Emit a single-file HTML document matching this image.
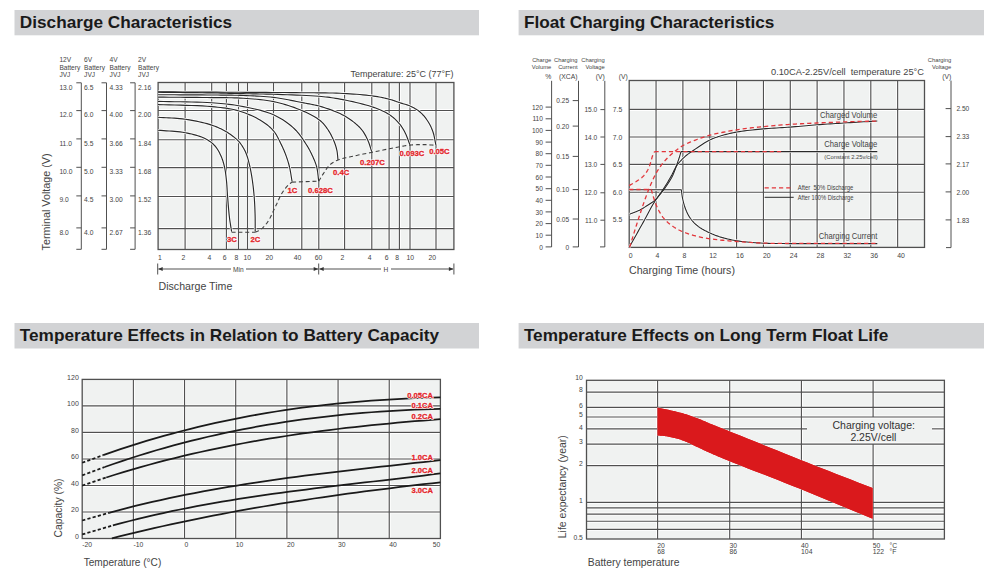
<!DOCTYPE html>
<html><head><meta charset="utf-8"><style>
html,body{margin:0;padding:0;background:#fff;width:1000px;height:577px;overflow:hidden}
svg{display:block;font-family:"Liberation Sans",sans-serif}
</style></head><body>
<svg width="1000" height="577" viewBox="0 0 1000 577">
<rect x="14.5" y="10" width="464.5" height="25.3" fill="#d2d3d5"/>
<text x="19.8" y="28.4" font-size="17.22" font-weight="bold" fill="#1a1a1a">Discharge Characteristics</text>
<rect x="518.6" y="10" width="465.4" height="25.3" fill="#d2d3d5"/>
<text x="523.9" y="28.4" font-size="17.22" font-weight="bold" fill="#1a1a1a">Float Charging Characteristics</text>
<rect x="14.5" y="323" width="464.5" height="25.5" fill="#d2d3d5"/>
<text x="19.8" y="341.4" font-size="17.22" font-weight="bold" fill="#1a1a1a">Temperature Effects in Relation to Battery Capacity</text>
<rect x="518.6" y="323" width="465.4" height="25.5" fill="#d2d3d5"/>
<text x="523.9" y="341.4" font-size="17.22" font-weight="bold" fill="#1a1a1a">Temperature Effects on Long Term Float Life</text>
<rect x="158.1" y="82.5" width="295.8" height="167.0" fill="#f0f2f1"/>
<g stroke="#ffffff" stroke-width="3.0"><line x1="158.1" y1="110.50" x2="453.9" y2="110.50"/><line x1="158.1" y1="139.70" x2="453.9" y2="139.70"/><line x1="158.1" y1="167.60" x2="453.9" y2="167.60"/><line x1="158.1" y1="196.50" x2="453.9" y2="196.50"/><line x1="158.1" y1="228.60" x2="453.9" y2="228.60"/><line x1="185.10" y1="82.5" x2="185.10" y2="249.5"/><line x1="211.70" y1="82.5" x2="211.70" y2="249.5"/><line x1="226.40" y1="82.5" x2="226.40" y2="249.5"/><line x1="238.50" y1="82.5" x2="238.50" y2="249.5"/><line x1="247.50" y1="82.5" x2="247.50" y2="249.5"/><line x1="273.50" y1="82.5" x2="273.50" y2="249.5"/><line x1="301.80" y1="82.5" x2="301.80" y2="249.5"/><line x1="318.80" y1="82.5" x2="318.80" y2="249.5"/><line x1="344.60" y1="82.5" x2="344.60" y2="249.5"/><line x1="371.80" y1="82.5" x2="371.80" y2="249.5"/><line x1="389.10" y1="82.5" x2="389.10" y2="249.5"/><line x1="399.40" y1="82.5" x2="399.40" y2="249.5"/><line x1="410.00" y1="82.5" x2="410.00" y2="249.5"/><line x1="436.00" y1="82.5" x2="436.00" y2="249.5"/></g>
<g stroke="#505050" stroke-width="1.15"><line x1="158.1" y1="110.50" x2="453.9" y2="110.50"/><line x1="158.1" y1="139.70" x2="453.9" y2="139.70"/><line x1="158.1" y1="167.60" x2="453.9" y2="167.60"/><line x1="158.1" y1="196.50" x2="453.9" y2="196.50"/><line x1="158.1" y1="228.60" x2="453.9" y2="228.60"/><line x1="185.10" y1="82.5" x2="185.10" y2="249.5"/><line x1="211.70" y1="82.5" x2="211.70" y2="249.5"/><line x1="226.40" y1="82.5" x2="226.40" y2="249.5"/><line x1="238.50" y1="82.5" x2="238.50" y2="249.5"/><line x1="247.50" y1="82.5" x2="247.50" y2="249.5"/><line x1="273.50" y1="82.5" x2="273.50" y2="249.5"/><line x1="301.80" y1="82.5" x2="301.80" y2="249.5"/><line x1="318.80" y1="82.5" x2="318.80" y2="249.5"/><line x1="344.60" y1="82.5" x2="344.60" y2="249.5"/><line x1="371.80" y1="82.5" x2="371.80" y2="249.5"/><line x1="389.10" y1="82.5" x2="389.10" y2="249.5"/><line x1="399.40" y1="82.5" x2="399.40" y2="249.5"/><line x1="410.00" y1="82.5" x2="410.00" y2="249.5"/><line x1="436.00" y1="82.5" x2="436.00" y2="249.5"/></g>
<rect x="158.1" y="82.5" width="295.8" height="167.0" fill="none" stroke="#505050" stroke-width="1.3"/>
<g fill="none" stroke="#ffffff" stroke-width="2.6"><path d="M158.00,91.80 L166.25,91.85 L174.59,91.90 L182.96,91.95 L191.36,92.00 L199.72,92.05 L208.03,92.10 L216.25,92.15 L224.34,92.20 L232.27,92.25 L240.00,92.30 L246.60,92.34 L253.16,92.38 L259.65,92.41 L266.06,92.44 L272.37,92.48 L278.56,92.51 L284.62,92.55 L290.53,92.59 L296.26,92.64 L301.80,92.70 L306.01,92.74 L310.08,92.77 L314.05,92.79 L317.91,92.81 L321.70,92.84 L325.42,92.89 L329.09,92.95 L332.74,93.03 L336.37,93.15 L340.00,93.30 L343.34,93.46 L346.69,93.65 L350.04,93.84 L353.37,94.06 L356.65,94.29 L359.87,94.55 L363.00,94.83 L366.03,95.13 L368.94,95.45 L371.70,95.80 L373.66,96.07 L375.55,96.36 L377.38,96.66 L379.16,96.97 L380.89,97.29 L382.57,97.62 L384.20,97.97 L385.80,98.33 L387.37,98.71 L388.90,99.10 L390.12,99.43 L391.30,99.79 L392.44,100.15 L393.56,100.53 L394.65,100.91 L395.73,101.30 L396.79,101.69 L397.86,102.07 L398.92,102.44 L400.00,102.80 L401.02,103.12 L402.04,103.42 L403.05,103.71 L404.06,103.98 L405.06,104.27 L406.06,104.56 L407.05,104.87 L408.04,105.21 L409.02,105.58 L410.00,106.00 L411.03,106.48 L412.07,106.98 L413.11,107.50 L414.15,108.05 L415.17,108.63 L416.19,109.24 L417.18,109.88 L418.15,110.55 L419.09,111.26 L420.00,112.00 L420.91,112.81 L421.80,113.66 L422.66,114.56 L423.51,115.49 L424.33,116.45 L425.12,117.44 L425.89,118.44 L426.62,119.46 L427.33,120.48 L428.00,121.50 L428.62,122.49 L429.21,123.49 L429.77,124.51 L430.30,125.53 L430.81,126.57 L431.29,127.62 L431.75,128.69 L432.18,129.78 L432.60,130.88 L433.00,132.00 L433.39,133.23 L433.74,134.48 L434.06,135.77 L434.34,137.07 L434.61,138.39 L434.86,139.71 L435.11,141.04 L435.36,142.37 L435.62,143.69 L435.90,145.00"/><path d="M158.00,92.30 L163.46,92.36 L169.04,92.41 L174.68,92.47 L180.35,92.52 L185.98,92.57 L191.52,92.63 L196.93,92.69 L202.14,92.75 L207.12,92.82 L211.80,92.90 L214.97,92.96 L217.98,93.03 L220.85,93.10 L223.61,93.17 L226.31,93.24 L228.98,93.31 L231.65,93.39 L234.35,93.46 L237.12,93.53 L240.00,93.60 L243.21,93.67 L246.43,93.73 L249.68,93.79 L252.95,93.84 L256.25,93.90 L259.60,93.96 L262.99,94.02 L266.43,94.10 L269.93,94.19 L273.50,94.30 L277.84,94.44 L282.42,94.58 L287.16,94.73 L292.00,94.89 L296.85,95.07 L301.66,95.26 L306.34,95.48 L310.82,95.72 L315.03,95.99 L318.90,96.30 L321.32,96.52 L323.57,96.74 L325.70,96.96 L327.73,97.19 L329.70,97.44 L331.66,97.71 L333.63,98.00 L335.65,98.33 L337.76,98.69 L340.00,99.10 L342.97,99.66 L346.11,100.28 L349.38,100.96 L352.73,101.68 L356.11,102.44 L359.46,103.24 L362.75,104.07 L365.92,104.93 L368.92,105.81 L371.70,106.70 L373.69,107.38 L375.61,108.06 L377.47,108.76 L379.28,109.46 L381.02,110.19 L382.71,110.94 L384.34,111.72 L385.91,112.54 L387.43,113.40 L388.90,114.30 L390.11,115.11 L391.29,115.96 L392.42,116.84 L393.50,117.75 L394.55,118.68 L395.56,119.62 L396.53,120.58 L397.46,121.55 L398.35,122.52 L399.20,123.50 L399.91,124.36 L400.58,125.21 L401.21,126.08 L401.80,126.95 L402.37,127.83 L402.92,128.72 L403.45,129.63 L403.97,130.56 L404.49,131.52 L405.00,132.50 L405.56,133.63 L406.08,134.81 L406.59,136.01 L407.08,137.25 L407.55,138.50 L408.02,139.76 L408.48,141.03 L408.95,142.30 L409.42,143.56 L409.90,144.80"/><path d="M158.00,94.70 L163.46,94.73 L169.04,94.76 L174.68,94.78 L180.35,94.81 L185.98,94.83 L191.52,94.86 L196.93,94.89 L202.14,94.92 L207.12,94.96 L211.80,95.00 L214.97,95.03 L217.98,95.05 L220.85,95.07 L223.61,95.08 L226.31,95.10 L228.98,95.13 L231.65,95.17 L234.35,95.23 L237.12,95.30 L240.00,95.40 L243.25,95.52 L246.57,95.64 L249.94,95.77 L253.34,95.91 L256.76,96.07 L260.18,96.26 L263.58,96.48 L266.95,96.74 L270.26,97.05 L273.50,97.40 L276.46,97.79 L279.43,98.23 L282.38,98.71 L285.31,99.24 L288.21,99.78 L291.06,100.34 L293.85,100.90 L296.58,101.46 L299.24,101.99 L301.80,102.50 L303.78,102.88 L305.69,103.23 L307.54,103.57 L309.35,103.90 L311.12,104.23 L312.88,104.58 L314.63,104.95 L316.39,105.36 L318.18,105.80 L320.00,106.30 L322.00,106.89 L324.06,107.52 L326.14,108.19 L328.24,108.90 L330.33,109.63 L332.39,110.39 L334.40,111.18 L336.36,111.97 L338.23,112.78 L340.00,113.60 L341.36,114.26 L342.67,114.94 L343.94,115.61 L345.17,116.30 L346.37,117.01 L347.53,117.72 L348.67,118.46 L349.79,119.22 L350.90,120.00 L352.00,120.80 L353.05,121.60 L354.10,122.42 L355.13,123.25 L356.14,124.10 L357.14,124.98 L358.10,125.86 L359.03,126.77 L359.93,127.70 L360.79,128.64 L361.60,129.60 L362.32,130.52 L363.00,131.45 L363.65,132.40 L364.26,133.37 L364.85,134.35 L365.42,135.35 L365.96,136.36 L366.48,137.39 L367.00,138.44 L367.50,139.50 L368.01,140.66 L368.49,141.84 L368.94,143.06 L369.37,144.29 L369.78,145.54 L370.18,146.79 L370.57,148.05 L370.97,149.31 L371.38,150.56 L371.80,151.80"/><path d="M158.00,97.10 L163.46,97.15 L169.04,97.20 L174.68,97.24 L180.35,97.29 L185.98,97.34 L191.52,97.38 L196.93,97.43 L202.14,97.49 L207.12,97.54 L211.80,97.60 L214.98,97.63 L217.98,97.65 L220.85,97.66 L223.62,97.67 L226.32,97.68 L228.98,97.71 L231.65,97.76 L234.35,97.83 L237.13,97.94 L240.00,98.10 L243.25,98.30 L246.58,98.50 L249.95,98.73 L253.36,98.98 L256.79,99.27 L260.21,99.61 L263.62,100.00 L266.98,100.46 L270.28,100.99 L273.50,101.60 L276.49,102.25 L279.47,102.98 L282.44,103.77 L285.38,104.61 L288.29,105.50 L291.14,106.44 L293.93,107.41 L296.64,108.42 L299.27,109.45 L301.80,110.50 L303.86,111.40 L305.91,112.32 L307.92,113.27 L309.88,114.25 L311.79,115.25 L313.63,116.26 L315.38,117.30 L317.03,118.35 L318.58,119.42 L320.00,120.50 L320.96,121.30 L321.85,122.11 L322.68,122.92 L323.45,123.74 L324.18,124.57 L324.87,125.42 L325.54,126.28 L326.19,127.16 L326.84,128.07 L327.50,129.00 L328.19,130.01 L328.86,131.07 L329.52,132.15 L330.16,133.25 L330.78,134.37 L331.37,135.51 L331.94,136.64 L332.49,137.77 L333.01,138.89 L333.50,140.00 L333.92,141.00 L334.33,142.00 L334.71,143.00 L335.07,144.00 L335.41,144.99 L335.73,145.99 L336.03,146.99 L336.31,147.99 L336.56,148.99 L336.80,150.00 L337.00,150.98 L337.17,151.97 L337.31,152.96 L337.42,153.95 L337.52,154.94 L337.62,155.93 L337.70,156.92 L337.79,157.92 L337.89,158.91 L338.00,159.90"/><path d="M158.00,101.40 L163.46,101.52 L169.04,101.62 L174.69,101.71 L180.35,101.79 L185.98,101.88 L191.53,101.99 L196.93,102.12 L202.15,102.30 L207.12,102.52 L211.80,102.80 L214.98,103.03 L217.99,103.25 L220.87,103.48 L223.64,103.73 L226.35,104.00 L229.01,104.31 L231.68,104.65 L234.38,105.04 L237.14,105.49 L240.00,106.00 L243.29,106.62 L246.70,107.27 L250.17,107.97 L253.68,108.72 L257.19,109.53 L260.67,110.41 L264.08,111.37 L267.37,112.42 L270.53,113.56 L273.50,114.80 L275.93,115.95 L278.30,117.18 L280.60,118.48 L282.83,119.84 L284.99,121.26 L287.07,122.73 L289.08,124.25 L291.01,125.80 L292.85,127.39 L294.60,129.00 L296.08,130.48 L297.48,132.03 L298.82,133.64 L300.10,135.28 L301.31,136.94 L302.47,138.61 L303.57,140.27 L304.62,141.90 L305.63,143.48 L306.60,145.00 L307.33,146.16 L308.01,147.29 L308.65,148.40 L309.26,149.49 L309.85,150.57 L310.41,151.65 L310.95,152.72 L311.47,153.80 L311.99,154.89 L312.50,156.00 L312.99,157.08 L313.47,158.15 L313.94,159.22 L314.40,160.30 L314.84,161.37 L315.26,162.46 L315.65,163.57 L316.03,164.69 L316.38,165.83 L316.70,167.00 L317.01,168.32 L317.27,169.67 L317.50,171.05 L317.70,172.45 L317.87,173.87 L318.03,175.30 L318.19,176.74 L318.34,178.17 L318.51,179.59 L318.70,181.00"/><path d="M158.00,104.60 L163.47,104.78 L169.07,104.93 L174.74,105.05 L180.44,105.18 L186.09,105.31 L191.65,105.47 L197.06,105.66 L202.26,105.90 L207.19,106.21 L211.80,106.60 L214.85,106.90 L217.76,107.20 L220.56,107.51 L223.25,107.84 L225.86,108.19 L228.40,108.59 L230.90,109.04 L233.37,109.55 L235.83,110.13 L238.30,110.80 L240.62,111.50 L242.94,112.26 L245.23,113.07 L247.51,113.94 L249.74,114.85 L251.93,115.81 L254.06,116.81 L256.12,117.84 L258.10,118.91 L260.00,120.00 L261.57,120.96 L263.09,121.93 L264.57,122.94 L266.01,123.96 L267.40,125.02 L268.73,126.11 L270.01,127.23 L271.24,128.38 L272.40,129.57 L273.50,130.80 L274.46,132.00 L275.35,133.26 L276.19,134.57 L276.97,135.91 L277.70,137.27 L278.40,138.64 L279.07,140.01 L279.72,141.37 L280.36,142.70 L281.00,144.00 L281.56,145.12 L282.09,146.23 L282.61,147.33 L283.10,148.42 L283.58,149.50 L284.05,150.58 L284.50,151.67 L284.94,152.76 L285.38,153.87 L285.80,155.00 L286.23,156.16 L286.64,157.33 L287.04,158.50 L287.43,159.68 L287.81,160.86 L288.17,162.06 L288.52,163.27 L288.86,164.50 L289.19,165.74 L289.50,167.00 L289.82,168.40 L290.12,169.83 L290.39,171.29 L290.65,172.76 L290.89,174.24 L291.13,175.74 L291.37,177.24 L291.60,178.73 L291.85,180.22 L292.10,181.70"/><path d="M158.00,117.30 L160.72,117.47 L163.45,117.62 L166.18,117.74 L168.91,117.87 L171.64,118.00 L174.37,118.15 L177.09,118.33 L179.80,118.56 L182.51,118.85 L185.20,119.20 L187.91,119.61 L190.68,120.07 L193.46,120.58 L196.25,121.12 L199.02,121.70 L201.74,122.32 L204.39,122.97 L206.95,123.65 L209.40,124.36 L211.70,125.10 L213.37,125.68 L214.98,126.27 L216.52,126.88 L218.01,127.50 L219.45,128.15 L220.86,128.82 L222.24,129.52 L223.60,130.24 L224.95,131.00 L226.30,131.80 L227.63,132.61 L228.95,133.46 L230.26,134.33 L231.56,135.24 L232.83,136.17 L234.06,137.12 L235.25,138.11 L236.40,139.11 L237.48,140.15 L238.50,141.20 L239.37,142.19 L240.20,143.20 L240.99,144.23 L241.73,145.28 L242.44,146.35 L243.11,147.45 L243.75,148.56 L244.36,149.69 L244.94,150.84 L245.50,152.00 L246.04,153.22 L246.53,154.46 L246.98,155.72 L247.40,157.01 L247.78,158.31 L248.15,159.63 L248.50,160.96 L248.84,162.30 L249.17,163.65 L249.50,165.00 L249.84,166.44 L250.17,167.90 L250.48,169.37 L250.77,170.86 L251.05,172.36 L251.32,173.87 L251.58,175.38 L251.83,176.91 L252.07,178.45 L252.30,180.00 L252.54,181.65 L252.77,183.32 L252.98,185.00 L253.19,186.69 L253.38,188.40 L253.57,190.11 L253.74,191.82 L253.90,193.55 L254.06,195.27 L254.20,197.00 L254.34,198.78 L254.46,200.58 L254.57,202.38 L254.68,204.19 L254.77,206.01 L254.85,207.82 L254.92,209.64 L254.99,211.44 L255.05,213.23 L255.10,215.00 L255.14,216.69 L255.17,218.36 L255.18,220.03 L255.19,221.69 L255.20,223.34 L255.20,224.99 L255.19,226.64 L255.19,228.29 L255.19,229.94 L255.20,231.60"/><path d="M158.00,130.20 L160.74,130.43 L163.52,130.63 L166.31,130.81 L169.11,130.99 L171.90,131.17 L174.66,131.38 L177.39,131.62 L180.06,131.91 L182.67,132.27 L185.20,132.70 L187.36,133.12 L189.51,133.58 L191.65,134.06 L193.75,134.57 L195.81,135.12 L197.81,135.71 L199.75,136.34 L201.60,137.01 L203.35,137.73 L205.00,138.50 L206.21,139.13 L207.36,139.79 L208.47,140.47 L209.53,141.17 L210.54,141.91 L211.50,142.67 L212.43,143.45 L213.32,144.27 L214.18,145.12 L215.00,146.00 L215.76,146.89 L216.47,147.81 L217.14,148.77 L217.78,149.75 L218.38,150.76 L218.95,151.79 L219.50,152.84 L220.02,153.89 L220.52,154.94 L221.00,156.00 L221.46,157.05 L221.88,158.11 L222.28,159.19 L222.66,160.27 L223.01,161.36 L223.34,162.47 L223.65,163.58 L223.95,164.71 L224.23,165.85 L224.50,167.00 L224.77,168.24 L225.01,169.49 L225.23,170.75 L225.43,172.03 L225.62,173.32 L225.79,174.62 L225.95,175.94 L226.10,177.27 L226.25,178.63 L226.40,180.00 L226.56,181.57 L226.70,183.16 L226.82,184.77 L226.93,186.41 L227.04,188.06 L227.14,189.74 L227.24,191.43 L227.35,193.14 L227.47,194.86 L227.60,196.60 L227.76,198.57 L227.91,200.60 L228.08,202.68 L228.24,204.78 L228.42,206.89 L228.59,208.99 L228.78,211.07 L228.98,213.11 L229.18,215.09 L229.40,217.00 L229.60,218.56 L229.80,220.08 L230.01,221.56 L230.24,223.02 L230.46,224.46 L230.69,225.88 L230.92,227.30 L231.15,228.72 L231.38,230.15 L231.60,231.60"/></g>
<g fill="none" stroke="#2a2a2a" stroke-width="1.15"><path d="M158.00,91.80 L166.25,91.85 L174.59,91.90 L182.96,91.95 L191.36,92.00 L199.72,92.05 L208.03,92.10 L216.25,92.15 L224.34,92.20 L232.27,92.25 L240.00,92.30 L246.60,92.34 L253.16,92.38 L259.65,92.41 L266.06,92.44 L272.37,92.48 L278.56,92.51 L284.62,92.55 L290.53,92.59 L296.26,92.64 L301.80,92.70 L306.01,92.74 L310.08,92.77 L314.05,92.79 L317.91,92.81 L321.70,92.84 L325.42,92.89 L329.09,92.95 L332.74,93.03 L336.37,93.15 L340.00,93.30 L343.34,93.46 L346.69,93.65 L350.04,93.84 L353.37,94.06 L356.65,94.29 L359.87,94.55 L363.00,94.83 L366.03,95.13 L368.94,95.45 L371.70,95.80 L373.66,96.07 L375.55,96.36 L377.38,96.66 L379.16,96.97 L380.89,97.29 L382.57,97.62 L384.20,97.97 L385.80,98.33 L387.37,98.71 L388.90,99.10 L390.12,99.43 L391.30,99.79 L392.44,100.15 L393.56,100.53 L394.65,100.91 L395.73,101.30 L396.79,101.69 L397.86,102.07 L398.92,102.44 L400.00,102.80 L401.02,103.12 L402.04,103.42 L403.05,103.71 L404.06,103.98 L405.06,104.27 L406.06,104.56 L407.05,104.87 L408.04,105.21 L409.02,105.58 L410.00,106.00 L411.03,106.48 L412.07,106.98 L413.11,107.50 L414.15,108.05 L415.17,108.63 L416.19,109.24 L417.18,109.88 L418.15,110.55 L419.09,111.26 L420.00,112.00 L420.91,112.81 L421.80,113.66 L422.66,114.56 L423.51,115.49 L424.33,116.45 L425.12,117.44 L425.89,118.44 L426.62,119.46 L427.33,120.48 L428.00,121.50 L428.62,122.49 L429.21,123.49 L429.77,124.51 L430.30,125.53 L430.81,126.57 L431.29,127.62 L431.75,128.69 L432.18,129.78 L432.60,130.88 L433.00,132.00 L433.39,133.23 L433.74,134.48 L434.06,135.77 L434.34,137.07 L434.61,138.39 L434.86,139.71 L435.11,141.04 L435.36,142.37 L435.62,143.69 L435.90,145.00"/><path d="M158.00,92.30 L163.46,92.36 L169.04,92.41 L174.68,92.47 L180.35,92.52 L185.98,92.57 L191.52,92.63 L196.93,92.69 L202.14,92.75 L207.12,92.82 L211.80,92.90 L214.97,92.96 L217.98,93.03 L220.85,93.10 L223.61,93.17 L226.31,93.24 L228.98,93.31 L231.65,93.39 L234.35,93.46 L237.12,93.53 L240.00,93.60 L243.21,93.67 L246.43,93.73 L249.68,93.79 L252.95,93.84 L256.25,93.90 L259.60,93.96 L262.99,94.02 L266.43,94.10 L269.93,94.19 L273.50,94.30 L277.84,94.44 L282.42,94.58 L287.16,94.73 L292.00,94.89 L296.85,95.07 L301.66,95.26 L306.34,95.48 L310.82,95.72 L315.03,95.99 L318.90,96.30 L321.32,96.52 L323.57,96.74 L325.70,96.96 L327.73,97.19 L329.70,97.44 L331.66,97.71 L333.63,98.00 L335.65,98.33 L337.76,98.69 L340.00,99.10 L342.97,99.66 L346.11,100.28 L349.38,100.96 L352.73,101.68 L356.11,102.44 L359.46,103.24 L362.75,104.07 L365.92,104.93 L368.92,105.81 L371.70,106.70 L373.69,107.38 L375.61,108.06 L377.47,108.76 L379.28,109.46 L381.02,110.19 L382.71,110.94 L384.34,111.72 L385.91,112.54 L387.43,113.40 L388.90,114.30 L390.11,115.11 L391.29,115.96 L392.42,116.84 L393.50,117.75 L394.55,118.68 L395.56,119.62 L396.53,120.58 L397.46,121.55 L398.35,122.52 L399.20,123.50 L399.91,124.36 L400.58,125.21 L401.21,126.08 L401.80,126.95 L402.37,127.83 L402.92,128.72 L403.45,129.63 L403.97,130.56 L404.49,131.52 L405.00,132.50 L405.56,133.63 L406.08,134.81 L406.59,136.01 L407.08,137.25 L407.55,138.50 L408.02,139.76 L408.48,141.03 L408.95,142.30 L409.42,143.56 L409.90,144.80"/><path d="M158.00,94.70 L163.46,94.73 L169.04,94.76 L174.68,94.78 L180.35,94.81 L185.98,94.83 L191.52,94.86 L196.93,94.89 L202.14,94.92 L207.12,94.96 L211.80,95.00 L214.97,95.03 L217.98,95.05 L220.85,95.07 L223.61,95.08 L226.31,95.10 L228.98,95.13 L231.65,95.17 L234.35,95.23 L237.12,95.30 L240.00,95.40 L243.25,95.52 L246.57,95.64 L249.94,95.77 L253.34,95.91 L256.76,96.07 L260.18,96.26 L263.58,96.48 L266.95,96.74 L270.26,97.05 L273.50,97.40 L276.46,97.79 L279.43,98.23 L282.38,98.71 L285.31,99.24 L288.21,99.78 L291.06,100.34 L293.85,100.90 L296.58,101.46 L299.24,101.99 L301.80,102.50 L303.78,102.88 L305.69,103.23 L307.54,103.57 L309.35,103.90 L311.12,104.23 L312.88,104.58 L314.63,104.95 L316.39,105.36 L318.18,105.80 L320.00,106.30 L322.00,106.89 L324.06,107.52 L326.14,108.19 L328.24,108.90 L330.33,109.63 L332.39,110.39 L334.40,111.18 L336.36,111.97 L338.23,112.78 L340.00,113.60 L341.36,114.26 L342.67,114.94 L343.94,115.61 L345.17,116.30 L346.37,117.01 L347.53,117.72 L348.67,118.46 L349.79,119.22 L350.90,120.00 L352.00,120.80 L353.05,121.60 L354.10,122.42 L355.13,123.25 L356.14,124.10 L357.14,124.98 L358.10,125.86 L359.03,126.77 L359.93,127.70 L360.79,128.64 L361.60,129.60 L362.32,130.52 L363.00,131.45 L363.65,132.40 L364.26,133.37 L364.85,134.35 L365.42,135.35 L365.96,136.36 L366.48,137.39 L367.00,138.44 L367.50,139.50 L368.01,140.66 L368.49,141.84 L368.94,143.06 L369.37,144.29 L369.78,145.54 L370.18,146.79 L370.57,148.05 L370.97,149.31 L371.38,150.56 L371.80,151.80"/><path d="M158.00,97.10 L163.46,97.15 L169.04,97.20 L174.68,97.24 L180.35,97.29 L185.98,97.34 L191.52,97.38 L196.93,97.43 L202.14,97.49 L207.12,97.54 L211.80,97.60 L214.98,97.63 L217.98,97.65 L220.85,97.66 L223.62,97.67 L226.32,97.68 L228.98,97.71 L231.65,97.76 L234.35,97.83 L237.13,97.94 L240.00,98.10 L243.25,98.30 L246.58,98.50 L249.95,98.73 L253.36,98.98 L256.79,99.27 L260.21,99.61 L263.62,100.00 L266.98,100.46 L270.28,100.99 L273.50,101.60 L276.49,102.25 L279.47,102.98 L282.44,103.77 L285.38,104.61 L288.29,105.50 L291.14,106.44 L293.93,107.41 L296.64,108.42 L299.27,109.45 L301.80,110.50 L303.86,111.40 L305.91,112.32 L307.92,113.27 L309.88,114.25 L311.79,115.25 L313.63,116.26 L315.38,117.30 L317.03,118.35 L318.58,119.42 L320.00,120.50 L320.96,121.30 L321.85,122.11 L322.68,122.92 L323.45,123.74 L324.18,124.57 L324.87,125.42 L325.54,126.28 L326.19,127.16 L326.84,128.07 L327.50,129.00 L328.19,130.01 L328.86,131.07 L329.52,132.15 L330.16,133.25 L330.78,134.37 L331.37,135.51 L331.94,136.64 L332.49,137.77 L333.01,138.89 L333.50,140.00 L333.92,141.00 L334.33,142.00 L334.71,143.00 L335.07,144.00 L335.41,144.99 L335.73,145.99 L336.03,146.99 L336.31,147.99 L336.56,148.99 L336.80,150.00 L337.00,150.98 L337.17,151.97 L337.31,152.96 L337.42,153.95 L337.52,154.94 L337.62,155.93 L337.70,156.92 L337.79,157.92 L337.89,158.91 L338.00,159.90"/><path d="M158.00,101.40 L163.46,101.52 L169.04,101.62 L174.69,101.71 L180.35,101.79 L185.98,101.88 L191.53,101.99 L196.93,102.12 L202.15,102.30 L207.12,102.52 L211.80,102.80 L214.98,103.03 L217.99,103.25 L220.87,103.48 L223.64,103.73 L226.35,104.00 L229.01,104.31 L231.68,104.65 L234.38,105.04 L237.14,105.49 L240.00,106.00 L243.29,106.62 L246.70,107.27 L250.17,107.97 L253.68,108.72 L257.19,109.53 L260.67,110.41 L264.08,111.37 L267.37,112.42 L270.53,113.56 L273.50,114.80 L275.93,115.95 L278.30,117.18 L280.60,118.48 L282.83,119.84 L284.99,121.26 L287.07,122.73 L289.08,124.25 L291.01,125.80 L292.85,127.39 L294.60,129.00 L296.08,130.48 L297.48,132.03 L298.82,133.64 L300.10,135.28 L301.31,136.94 L302.47,138.61 L303.57,140.27 L304.62,141.90 L305.63,143.48 L306.60,145.00 L307.33,146.16 L308.01,147.29 L308.65,148.40 L309.26,149.49 L309.85,150.57 L310.41,151.65 L310.95,152.72 L311.47,153.80 L311.99,154.89 L312.50,156.00 L312.99,157.08 L313.47,158.15 L313.94,159.22 L314.40,160.30 L314.84,161.37 L315.26,162.46 L315.65,163.57 L316.03,164.69 L316.38,165.83 L316.70,167.00 L317.01,168.32 L317.27,169.67 L317.50,171.05 L317.70,172.45 L317.87,173.87 L318.03,175.30 L318.19,176.74 L318.34,178.17 L318.51,179.59 L318.70,181.00"/><path d="M158.00,104.60 L163.47,104.78 L169.07,104.93 L174.74,105.05 L180.44,105.18 L186.09,105.31 L191.65,105.47 L197.06,105.66 L202.26,105.90 L207.19,106.21 L211.80,106.60 L214.85,106.90 L217.76,107.20 L220.56,107.51 L223.25,107.84 L225.86,108.19 L228.40,108.59 L230.90,109.04 L233.37,109.55 L235.83,110.13 L238.30,110.80 L240.62,111.50 L242.94,112.26 L245.23,113.07 L247.51,113.94 L249.74,114.85 L251.93,115.81 L254.06,116.81 L256.12,117.84 L258.10,118.91 L260.00,120.00 L261.57,120.96 L263.09,121.93 L264.57,122.94 L266.01,123.96 L267.40,125.02 L268.73,126.11 L270.01,127.23 L271.24,128.38 L272.40,129.57 L273.50,130.80 L274.46,132.00 L275.35,133.26 L276.19,134.57 L276.97,135.91 L277.70,137.27 L278.40,138.64 L279.07,140.01 L279.72,141.37 L280.36,142.70 L281.00,144.00 L281.56,145.12 L282.09,146.23 L282.61,147.33 L283.10,148.42 L283.58,149.50 L284.05,150.58 L284.50,151.67 L284.94,152.76 L285.38,153.87 L285.80,155.00 L286.23,156.16 L286.64,157.33 L287.04,158.50 L287.43,159.68 L287.81,160.86 L288.17,162.06 L288.52,163.27 L288.86,164.50 L289.19,165.74 L289.50,167.00 L289.82,168.40 L290.12,169.83 L290.39,171.29 L290.65,172.76 L290.89,174.24 L291.13,175.74 L291.37,177.24 L291.60,178.73 L291.85,180.22 L292.10,181.70"/><path d="M158.00,117.30 L160.72,117.47 L163.45,117.62 L166.18,117.74 L168.91,117.87 L171.64,118.00 L174.37,118.15 L177.09,118.33 L179.80,118.56 L182.51,118.85 L185.20,119.20 L187.91,119.61 L190.68,120.07 L193.46,120.58 L196.25,121.12 L199.02,121.70 L201.74,122.32 L204.39,122.97 L206.95,123.65 L209.40,124.36 L211.70,125.10 L213.37,125.68 L214.98,126.27 L216.52,126.88 L218.01,127.50 L219.45,128.15 L220.86,128.82 L222.24,129.52 L223.60,130.24 L224.95,131.00 L226.30,131.80 L227.63,132.61 L228.95,133.46 L230.26,134.33 L231.56,135.24 L232.83,136.17 L234.06,137.12 L235.25,138.11 L236.40,139.11 L237.48,140.15 L238.50,141.20 L239.37,142.19 L240.20,143.20 L240.99,144.23 L241.73,145.28 L242.44,146.35 L243.11,147.45 L243.75,148.56 L244.36,149.69 L244.94,150.84 L245.50,152.00 L246.04,153.22 L246.53,154.46 L246.98,155.72 L247.40,157.01 L247.78,158.31 L248.15,159.63 L248.50,160.96 L248.84,162.30 L249.17,163.65 L249.50,165.00 L249.84,166.44 L250.17,167.90 L250.48,169.37 L250.77,170.86 L251.05,172.36 L251.32,173.87 L251.58,175.38 L251.83,176.91 L252.07,178.45 L252.30,180.00 L252.54,181.65 L252.77,183.32 L252.98,185.00 L253.19,186.69 L253.38,188.40 L253.57,190.11 L253.74,191.82 L253.90,193.55 L254.06,195.27 L254.20,197.00 L254.34,198.78 L254.46,200.58 L254.57,202.38 L254.68,204.19 L254.77,206.01 L254.85,207.82 L254.92,209.64 L254.99,211.44 L255.05,213.23 L255.10,215.00 L255.14,216.69 L255.17,218.36 L255.18,220.03 L255.19,221.69 L255.20,223.34 L255.20,224.99 L255.19,226.64 L255.19,228.29 L255.19,229.94 L255.20,231.60"/><path d="M158.00,130.20 L160.74,130.43 L163.52,130.63 L166.31,130.81 L169.11,130.99 L171.90,131.17 L174.66,131.38 L177.39,131.62 L180.06,131.91 L182.67,132.27 L185.20,132.70 L187.36,133.12 L189.51,133.58 L191.65,134.06 L193.75,134.57 L195.81,135.12 L197.81,135.71 L199.75,136.34 L201.60,137.01 L203.35,137.73 L205.00,138.50 L206.21,139.13 L207.36,139.79 L208.47,140.47 L209.53,141.17 L210.54,141.91 L211.50,142.67 L212.43,143.45 L213.32,144.27 L214.18,145.12 L215.00,146.00 L215.76,146.89 L216.47,147.81 L217.14,148.77 L217.78,149.75 L218.38,150.76 L218.95,151.79 L219.50,152.84 L220.02,153.89 L220.52,154.94 L221.00,156.00 L221.46,157.05 L221.88,158.11 L222.28,159.19 L222.66,160.27 L223.01,161.36 L223.34,162.47 L223.65,163.58 L223.95,164.71 L224.23,165.85 L224.50,167.00 L224.77,168.24 L225.01,169.49 L225.23,170.75 L225.43,172.03 L225.62,173.32 L225.79,174.62 L225.95,175.94 L226.10,177.27 L226.25,178.63 L226.40,180.00 L226.56,181.57 L226.70,183.16 L226.82,184.77 L226.93,186.41 L227.04,188.06 L227.14,189.74 L227.24,191.43 L227.35,193.14 L227.47,194.86 L227.60,196.60 L227.76,198.57 L227.91,200.60 L228.08,202.68 L228.24,204.78 L228.42,206.89 L228.59,208.99 L228.78,211.07 L228.98,213.11 L229.18,215.09 L229.40,217.00 L229.60,218.56 L229.80,220.08 L230.01,221.56 L230.24,223.02 L230.46,224.46 L230.69,225.88 L230.92,227.30 L231.15,228.72 L231.38,230.15 L231.60,231.60"/></g>
<g fill="none" stroke="#404040" stroke-width="1.1" stroke-dasharray="4,2.8"><path d="M231.60,232.20 L255.20,232.20"/><path d="M255.20,232.20 L255.76,231.94 L256.32,231.71 L256.89,231.48 L257.45,231.26 L258.01,231.03 L258.57,230.78 L259.13,230.52 L259.69,230.22 L260.25,229.88 L260.80,229.50 L261.51,228.94 L262.21,228.34 L262.92,227.68 L263.62,226.97 L264.32,226.22 L265.01,225.43 L265.70,224.60 L266.37,223.73 L267.04,222.83 L267.70,221.90 L268.54,220.61 L269.35,219.21 L270.16,217.71 L270.95,216.14 L271.73,214.53 L272.50,212.89 L273.26,211.25 L274.01,209.62 L274.76,208.03 L275.50,206.50 L276.18,205.10 L276.84,203.68 L277.49,202.27 L278.12,200.86 L278.76,199.46 L279.40,198.08 L280.04,196.74 L280.71,195.44 L281.39,194.19 L282.10,193.00 L282.73,192.03 L283.38,191.06 L284.06,190.11 L284.74,189.18 L285.43,188.29 L286.12,187.44 L286.80,186.63 L287.46,185.89 L288.09,185.21 L288.70,184.60 L289.06,184.26 L289.42,183.96 L289.76,183.69 L290.10,183.45 L290.44,183.22 L290.77,183.00 L291.10,182.78 L291.43,182.57 L291.76,182.34 L292.10,182.10"/><path d="M292.10,182.10 L318.70,181.20"/><path d="M318.70,181.20 L319.17,180.44 L319.62,179.68 L320.08,178.93 L320.53,178.17 L320.99,177.42 L321.45,176.66 L321.91,175.90 L322.39,175.14 L322.89,174.37 L323.40,173.60 L323.97,172.74 L324.54,171.85 L325.12,170.93 L325.71,170.02 L326.32,169.10 L326.94,168.21 L327.59,167.34 L328.26,166.51 L328.96,165.72 L329.70,165.00 L330.42,164.37 L331.16,163.77 L331.91,163.22 L332.68,162.70 L333.48,162.20 L334.31,161.73 L335.17,161.28 L336.07,160.85 L337.01,160.42 L338.00,160.00 L339.43,159.46 L340.97,158.96 L342.61,158.51 L344.31,158.08 L346.08,157.68 L347.87,157.29 L349.68,156.92 L351.49,156.55 L353.27,156.18 L355.00,155.80 L356.68,155.43 L358.33,155.07 L359.97,154.72 L361.60,154.39 L363.24,154.05 L364.90,153.72 L366.60,153.38 L368.34,153.04 L370.13,152.68 L372.00,152.30 L374.54,151.78 L377.29,151.22 L380.18,150.63 L383.15,150.02 L386.15,149.41 L389.12,148.81 L392.00,148.24 L394.73,147.70 L397.25,147.22 L399.50,146.80 L400.73,146.57 L401.87,146.36 L402.94,146.16 L403.95,145.97 L404.93,145.80 L405.89,145.63 L406.84,145.48 L407.82,145.34 L408.83,145.22 L409.90,145.10 L411.14,144.99 L412.40,144.89 L413.69,144.80 L414.99,144.74 L416.31,144.68 L417.63,144.64 L418.95,144.62 L420.28,144.60 L421.59,144.59 L422.90,144.60 L424.20,144.62 L425.50,144.66 L426.80,144.72 L428.10,144.79 L429.40,144.87 L430.70,144.96 L432.00,145.05 L433.30,145.14 L434.60,145.22 L435.90,145.30"/></g>
<text x="231.9" y="242.0" font-size="7.7" text-anchor="middle" font-weight="bold" fill="#fff" stroke="#fff" stroke-width="1.6" stroke-linejoin="round">3C</text>
<text x="231.9" y="242.0" font-size="7.7" text-anchor="middle" font-weight="bold" fill="#e1262b" stroke="#e1262b" stroke-width="0.3">3C</text>
<text x="255.5" y="242.0" font-size="7.7" text-anchor="middle" font-weight="bold" fill="#fff" stroke="#fff" stroke-width="1.6" stroke-linejoin="round">2C</text>
<text x="255.5" y="242.0" font-size="7.7" text-anchor="middle" font-weight="bold" fill="#e1262b" stroke="#e1262b" stroke-width="0.3">2C</text>
<text x="292.4" y="193.3" font-size="7.7" text-anchor="middle" font-weight="bold" fill="#fff" stroke="#fff" stroke-width="1.6" stroke-linejoin="round">1C</text>
<text x="292.4" y="193.3" font-size="7.7" text-anchor="middle" font-weight="bold" fill="#e1262b" stroke="#e1262b" stroke-width="0.3">1C</text>
<text x="320.5" y="192.8" font-size="7.7" text-anchor="middle" font-weight="bold" fill="#fff" stroke="#fff" stroke-width="1.6" stroke-linejoin="round">0.628C</text>
<text x="320.5" y="192.8" font-size="7.7" text-anchor="middle" font-weight="bold" fill="#e1262b" stroke="#e1262b" stroke-width="0.3">0.628C</text>
<text x="341.2" y="174.8" font-size="7.7" text-anchor="middle" font-weight="bold" fill="#fff" stroke="#fff" stroke-width="1.6" stroke-linejoin="round">0.4C</text>
<text x="341.2" y="174.8" font-size="7.7" text-anchor="middle" font-weight="bold" fill="#e1262b" stroke="#e1262b" stroke-width="0.3">0.4C</text>
<text x="372.4" y="165.0" font-size="7.7" text-anchor="middle" font-weight="bold" fill="#fff" stroke="#fff" stroke-width="1.6" stroke-linejoin="round">0.207C</text>
<text x="372.4" y="165.0" font-size="7.7" text-anchor="middle" font-weight="bold" fill="#e1262b" stroke="#e1262b" stroke-width="0.3">0.207C</text>
<text x="411.9" y="156.0" font-size="7.7" text-anchor="middle" font-weight="bold" fill="#fff" stroke="#fff" stroke-width="1.6" stroke-linejoin="round">0.093C</text>
<text x="411.9" y="156.0" font-size="7.7" text-anchor="middle" font-weight="bold" fill="#e1262b" stroke="#e1262b" stroke-width="0.3">0.093C</text>
<text x="439.4" y="153.9" font-size="7.7" text-anchor="middle" font-weight="bold" fill="#fff" stroke="#fff" stroke-width="1.6" stroke-linejoin="round">0.05C</text>
<text x="439.4" y="153.9" font-size="7.7" text-anchor="middle" font-weight="bold" fill="#e1262b" stroke="#e1262b" stroke-width="0.3">0.05C</text>
<text x="453.5" y="76.9" font-size="9.1" text-anchor="end" font-weight="normal" fill="#444444" textLength="103" lengthAdjust="spacingAndGlyphs" >Temperature: 25°C (77°F)</text>
<text x="59.4" y="62.4" font-size="6.6" text-anchor="start" font-weight="normal" fill="#444444" >12V</text>
<text x="59.4" y="69.6" font-size="6.6" text-anchor="start" font-weight="normal" fill="#444444" >Battery</text>
<text x="59.4" y="76.9" font-size="6.6" text-anchor="start" font-weight="normal" fill="#444444" >JVJ</text>
<text x="84.1" y="62.4" font-size="6.6" text-anchor="start" font-weight="normal" fill="#444444" >6V</text>
<text x="84.1" y="69.6" font-size="6.6" text-anchor="start" font-weight="normal" fill="#444444" >Battery</text>
<text x="84.1" y="76.9" font-size="6.6" text-anchor="start" font-weight="normal" fill="#444444" >JVJ</text>
<text x="109.6" y="62.4" font-size="6.6" text-anchor="start" font-weight="normal" fill="#444444" >4V</text>
<text x="109.6" y="69.6" font-size="6.6" text-anchor="start" font-weight="normal" fill="#444444" >Battery</text>
<text x="109.6" y="76.9" font-size="6.6" text-anchor="start" font-weight="normal" fill="#444444" >JVJ</text>
<text x="138.1" y="62.4" font-size="6.6" text-anchor="start" font-weight="normal" fill="#444444" >2V</text>
<text x="138.1" y="69.6" font-size="6.6" text-anchor="start" font-weight="normal" fill="#444444" >Battery</text>
<text x="138.1" y="76.9" font-size="6.6" text-anchor="start" font-weight="normal" fill="#444444" >JVJ</text>
<text x="59.4" y="90.2" font-size="6.7" text-anchor="start" font-weight="normal" fill="#444444" >13.0</text>
<text x="59.4" y="116.9" font-size="6.7" text-anchor="start" font-weight="normal" fill="#444444" >12.0</text>
<text x="59.4" y="146.0" font-size="6.7" text-anchor="start" font-weight="normal" fill="#444444" >11.0</text>
<text x="59.4" y="173.9" font-size="6.7" text-anchor="start" font-weight="normal" fill="#444444" >10.0</text>
<text x="59.4" y="202.0" font-size="6.7" text-anchor="start" font-weight="normal" fill="#444444" >9.0</text>
<text x="59.4" y="234.5" font-size="6.7" text-anchor="start" font-weight="normal" fill="#444444" >8.0</text>
<text x="84.1" y="90.2" font-size="6.7" text-anchor="start" font-weight="normal" fill="#444444" >6.5</text>
<text x="84.1" y="116.9" font-size="6.7" text-anchor="start" font-weight="normal" fill="#444444" >6.0</text>
<text x="84.1" y="146.0" font-size="6.7" text-anchor="start" font-weight="normal" fill="#444444" >5.5</text>
<text x="84.1" y="173.9" font-size="6.7" text-anchor="start" font-weight="normal" fill="#444444" >5.0</text>
<text x="84.1" y="202.0" font-size="6.7" text-anchor="start" font-weight="normal" fill="#444444" >4.5</text>
<text x="84.1" y="234.5" font-size="6.7" text-anchor="start" font-weight="normal" fill="#444444" >4.0</text>
<text x="109.6" y="90.2" font-size="6.7" text-anchor="start" font-weight="normal" fill="#444444" >4.33</text>
<text x="109.6" y="116.9" font-size="6.7" text-anchor="start" font-weight="normal" fill="#444444" >4.00</text>
<text x="109.6" y="146.0" font-size="6.7" text-anchor="start" font-weight="normal" fill="#444444" >3.66</text>
<text x="109.6" y="173.9" font-size="6.7" text-anchor="start" font-weight="normal" fill="#444444" >3.33</text>
<text x="109.6" y="202.0" font-size="6.7" text-anchor="start" font-weight="normal" fill="#444444" >3.00</text>
<text x="109.6" y="234.5" font-size="6.7" text-anchor="start" font-weight="normal" fill="#444444" >2.67</text>
<text x="138.1" y="90.2" font-size="6.7" text-anchor="start" font-weight="normal" fill="#444444" >2.16</text>
<text x="138.1" y="116.9" font-size="6.7" text-anchor="start" font-weight="normal" fill="#444444" >2.00</text>
<text x="138.1" y="146.0" font-size="6.7" text-anchor="start" font-weight="normal" fill="#444444" >1.84</text>
<text x="138.1" y="173.9" font-size="6.7" text-anchor="start" font-weight="normal" fill="#444444" >1.68</text>
<text x="138.1" y="202.0" font-size="6.7" text-anchor="start" font-weight="normal" fill="#444444" >1.52</text>
<text x="138.1" y="234.5" font-size="6.7" text-anchor="start" font-weight="normal" fill="#444444" >1.36</text>
<g stroke="#505050" stroke-width="1"><line x1="81.3" y1="82.8" x2="81.3" y2="249.3"/><line x1="76.3" y1="82.8" x2="81.3" y2="82.8"/><line x1="76.3" y1="110.6" x2="81.3" y2="110.6"/><line x1="76.3" y1="138.9" x2="81.3" y2="138.9"/><line x1="76.3" y1="167.3" x2="81.3" y2="167.3"/><line x1="76.3" y1="195.9" x2="81.3" y2="195.9"/><line x1="76.3" y1="227.9" x2="81.3" y2="227.9"/><line x1="76.3" y1="249.3" x2="81.3" y2="249.3"/><line x1="106.5" y1="82.8" x2="106.5" y2="249.3"/><line x1="101.5" y1="82.8" x2="106.5" y2="82.8"/><line x1="101.5" y1="110.6" x2="106.5" y2="110.6"/><line x1="101.5" y1="138.9" x2="106.5" y2="138.9"/><line x1="101.5" y1="167.3" x2="106.5" y2="167.3"/><line x1="101.5" y1="195.9" x2="106.5" y2="195.9"/><line x1="101.5" y1="227.9" x2="106.5" y2="227.9"/><line x1="101.5" y1="249.3" x2="106.5" y2="249.3"/><line x1="135.1" y1="82.8" x2="135.1" y2="249.3"/><line x1="130.1" y1="82.8" x2="135.1" y2="82.8"/><line x1="130.1" y1="110.6" x2="135.1" y2="110.6"/><line x1="130.1" y1="138.9" x2="135.1" y2="138.9"/><line x1="130.1" y1="167.3" x2="135.1" y2="167.3"/><line x1="130.1" y1="195.9" x2="135.1" y2="195.9"/><line x1="130.1" y1="227.9" x2="135.1" y2="227.9"/><line x1="130.1" y1="249.3" x2="135.1" y2="249.3"/></g>
<text transform="translate(49.6,250.4) rotate(-90)" font-size="11.2" fill="#444444" textLength="97" lengthAdjust="spacingAndGlyphs">Terminal Voltage (V)</text>
<text x="160" y="259.9" font-size="6.8" text-anchor="middle" font-weight="normal" fill="#444444" >1</text>
<text x="183.3" y="259.9" font-size="6.8" text-anchor="middle" font-weight="normal" fill="#444444" >2</text>
<text x="209.4" y="259.9" font-size="6.8" text-anchor="middle" font-weight="normal" fill="#444444" >4</text>
<text x="224.7" y="259.9" font-size="6.8" text-anchor="middle" font-weight="normal" fill="#444444" >6</text>
<text x="236.4" y="259.9" font-size="6.8" text-anchor="middle" font-weight="normal" fill="#444444" >8</text>
<text x="247.2" y="259.9" font-size="6.8" text-anchor="middle" font-weight="normal" fill="#444444" >10</text>
<text x="269.3" y="259.9" font-size="6.8" text-anchor="middle" font-weight="normal" fill="#444444" >20</text>
<text x="297.6" y="259.9" font-size="6.8" text-anchor="middle" font-weight="normal" fill="#444444" >40</text>
<text x="318.6" y="259.9" font-size="6.8" text-anchor="middle" font-weight="normal" fill="#444444" >60</text>
<text x="342.5" y="259.9" font-size="6.8" text-anchor="middle" font-weight="normal" fill="#444444" >2</text>
<text x="369.7" y="259.9" font-size="6.8" text-anchor="middle" font-weight="normal" fill="#444444" >4</text>
<text x="386.7" y="259.9" font-size="6.8" text-anchor="middle" font-weight="normal" fill="#444444" >6</text>
<text x="397.2" y="259.9" font-size="6.8" text-anchor="middle" font-weight="normal" fill="#444444" >8</text>
<text x="410.2" y="259.9" font-size="6.8" text-anchor="middle" font-weight="normal" fill="#444444" >10</text>
<text x="432.3" y="259.9" font-size="6.8" text-anchor="middle" font-weight="normal" fill="#444444" >20</text>
<g stroke="#333" stroke-width="0.85"><line x1="157.7" y1="263.5" x2="157.7" y2="274.5"/><line x1="318.7" y1="263.5" x2="318.7" y2="274.5"/><line x1="453.9" y1="263.5" x2="453.9" y2="274.5"/><line x1="158.5" y1="269" x2="231" y2="269"/><line x1="246" y1="269" x2="318" y2="269"/><line x1="319.5" y1="269" x2="381" y2="269"/><line x1="391" y1="269" x2="453" y2="269"/></g>
<g fill="#333"><path d="M158.2,269 l4.5,-2 v4 z"/><path d="M318.2,269 l-4.5,-2 v4 z"/><path d="M319.2,269 l4.5,-2 v4 z"/><path d="M453.4,269 l-4.5,-2 v4 z"/></g>
<text x="238.3" y="271.5" font-size="6.6" text-anchor="middle" font-weight="normal" fill="#444444" >Min</text>
<text x="386" y="271.5" font-size="6.6" text-anchor="middle" font-weight="normal" fill="#444444" >H</text>
<text x="158.5" y="289.7" font-size="10.8" text-anchor="start" font-weight="normal" fill="#444444" textLength="73.8" lengthAdjust="spacingAndGlyphs" >Discharge Time</text>
<rect x="629.2" y="80.5" width="295.3" height="166.9" fill="#f0f2f1"/>
<g stroke="#ffffff" stroke-width="3.0"><line x1="629.2" y1="109.40" x2="924.5" y2="109.40"/><line x1="629.2" y1="137.00" x2="924.5" y2="137.00"/><line x1="629.2" y1="164.40" x2="924.5" y2="164.40"/><line x1="629.2" y1="192.20" x2="924.5" y2="192.20"/><line x1="629.2" y1="219.70" x2="924.5" y2="219.70"/><line x1="656.05" y1="80.5" x2="656.05" y2="247.4"/><line x1="682.89" y1="80.5" x2="682.89" y2="247.4"/><line x1="709.74" y1="80.5" x2="709.74" y2="247.4"/><line x1="736.58" y1="80.5" x2="736.58" y2="247.4"/><line x1="763.43" y1="80.5" x2="763.43" y2="247.4"/><line x1="790.27" y1="80.5" x2="790.27" y2="247.4"/><line x1="817.12" y1="80.5" x2="817.12" y2="247.4"/><line x1="843.96" y1="80.5" x2="843.96" y2="247.4"/><line x1="870.81" y1="80.5" x2="870.81" y2="247.4"/><line x1="897.65" y1="80.5" x2="897.65" y2="247.4"/></g>
<g stroke="#505050" stroke-width="1.15"><line x1="629.2" y1="109.40" x2="924.5" y2="109.40"/><line x1="629.2" y1="137.00" x2="924.5" y2="137.00"/><line x1="629.2" y1="164.40" x2="924.5" y2="164.40"/><line x1="629.2" y1="192.20" x2="924.5" y2="192.20"/><line x1="629.2" y1="219.70" x2="924.5" y2="219.70"/><line x1="656.05" y1="80.5" x2="656.05" y2="247.4"/><line x1="682.89" y1="80.5" x2="682.89" y2="247.4"/><line x1="709.74" y1="80.5" x2="709.74" y2="247.4"/><line x1="736.58" y1="80.5" x2="736.58" y2="247.4"/><line x1="763.43" y1="80.5" x2="763.43" y2="247.4"/><line x1="790.27" y1="80.5" x2="790.27" y2="247.4"/><line x1="817.12" y1="80.5" x2="817.12" y2="247.4"/><line x1="843.96" y1="80.5" x2="843.96" y2="247.4"/><line x1="870.81" y1="80.5" x2="870.81" y2="247.4"/><line x1="897.65" y1="80.5" x2="897.65" y2="247.4"/></g>
<rect x="629.2" y="80.5" width="295.3" height="166.9" fill="none" stroke="#505050" stroke-width="1.3"/>
<g fill="none" stroke="#ffffff" stroke-width="2.4" stroke-linejoin="round"><path d="M629.20,247.30 L630.48,245.02 L631.76,242.75 L633.04,240.47 L634.31,238.20 L635.59,235.93 L636.87,233.65 L638.15,231.37 L639.43,229.09 L640.71,226.80 L642.00,224.50 L643.32,222.11 L644.64,219.66 L645.97,217.16 L647.30,214.65 L648.64,212.15 L649.97,209.69 L651.29,207.30 L652.60,205.00 L653.91,202.83 L655.20,200.80 L656.17,199.38 L657.15,198.04 L658.13,196.77 L659.10,195.56 L660.07,194.38 L661.03,193.23 L661.97,192.08 L662.90,190.92 L663.81,189.73 L664.70,188.50 L665.55,187.27 L666.40,186.04 L667.24,184.79 L668.07,183.55 L668.89,182.30 L669.68,181.04 L670.44,179.78 L671.16,178.52 L671.85,177.26 L672.50,176.00 L673.05,174.82 L673.57,173.62 L674.06,172.40 L674.52,171.18 L674.95,169.97 L675.37,168.76 L675.77,167.59 L676.15,166.44 L676.53,165.34 L676.90,164.30 L677.18,163.55 L677.44,162.82 L677.70,162.11 L677.95,161.43 L678.19,160.76 L678.42,160.10 L678.65,159.45 L678.87,158.80 L679.09,158.15 L679.30,157.50 L679.49,156.90 L679.67,156.30 L679.85,155.70 L680.02,155.11 L680.18,154.53 L680.34,153.94 L680.51,153.36 L680.67,152.77 L680.83,152.19 L681.00,151.60"/><path d="M681.00,151.60 L877.30,151.60"/><path d="M629.20,189.70 L681.30,189.70"/><path d="M681.30,189.70 L681.42,190.53 L681.53,191.36 L681.63,192.20 L681.74,193.03 L681.85,193.86 L681.96,194.70 L682.08,195.53 L682.21,196.35 L682.35,197.18 L682.50,198.00 L682.66,198.81 L682.83,199.62 L683.01,200.43 L683.19,201.24 L683.38,202.04 L683.59,202.84 L683.80,203.64 L684.02,204.43 L684.25,205.22 L684.50,206.00 L684.75,206.77 L685.01,207.54 L685.28,208.30 L685.56,209.06 L685.85,209.81 L686.15,210.56 L686.46,211.31 L686.79,212.04 L687.14,212.78 L687.50,213.50 L687.88,214.23 L688.27,214.95 L688.68,215.67 L689.10,216.39 L689.54,217.09 L689.99,217.79 L690.46,218.49 L690.95,219.17 L691.46,219.84 L692.00,220.50 L692.60,221.20 L693.22,221.88 L693.86,222.56 L694.52,223.23 L695.21,223.89 L695.92,224.53 L696.65,225.17 L697.41,225.79 L698.19,226.40 L699.00,227.00 L699.96,227.67 L700.97,228.32 L702.01,228.96 L703.09,229.58 L704.20,230.19 L705.32,230.79 L706.46,231.36 L707.61,231.92 L708.76,232.47 L709.90,233.00 L711.06,233.52 L712.23,234.03 L713.41,234.51 L714.60,234.98 L715.79,235.44 L717.00,235.88 L718.23,236.30 L719.47,236.72 L720.72,237.11 L722.00,237.50 L723.39,237.90 L724.78,238.29 L726.17,238.65 L727.58,239.00 L729.01,239.33 L730.47,239.65 L731.97,239.96 L733.52,240.25 L735.13,240.53 L736.80,240.80 L739.14,241.14 L741.61,241.46 L744.20,241.75 L746.87,242.02 L749.60,242.27 L752.38,242.49 L755.17,242.70 L757.95,242.88 L760.70,243.05 L763.40,243.20 L765.99,243.32 L768.47,243.41 L770.89,243.48 L773.30,243.52 L775.74,243.54 L778.25,243.56 L780.89,243.56 L783.70,243.57 L786.72,243.58 L790.00,243.60 L796.69,243.64 L804.23,243.66 L812.49,243.67 L821.29,243.67 L830.50,243.66 L839.96,243.64 L849.52,243.63 L859.03,243.61 L868.34,243.60 L877.30,243.60"/><path d="M629.20,214.30 L630.18,213.92 L631.17,213.54 L632.17,213.17 L633.16,212.81 L634.16,212.44 L635.15,212.06 L636.13,211.67 L637.10,211.27 L638.06,210.85 L639.00,210.40 L639.91,209.94 L640.81,209.45 L641.70,208.95 L642.59,208.44 L643.46,207.91 L644.33,207.38 L645.18,206.84 L646.03,206.29 L646.87,205.74 L647.70,205.20 L648.49,204.69 L649.26,204.20 L650.03,203.71 L650.80,203.22 L651.55,202.72 L652.30,202.20 L653.04,201.66 L653.77,201.08 L654.49,200.46 L655.20,199.80 L656.03,198.95 L656.84,198.04 L657.64,197.07 L658.43,196.06 L659.20,195.01 L659.97,193.93 L660.73,192.83 L661.49,191.72 L662.25,190.61 L663.00,189.50 L663.81,188.30 L664.62,187.06 L665.42,185.80 L666.22,184.52 L667.02,183.22 L667.80,181.92 L668.57,180.62 L669.33,179.33 L670.07,178.06 L670.80,176.80 L671.44,175.64 L672.06,174.47 L672.64,173.31 L673.22,172.14 L673.79,170.98 L674.36,169.84 L674.95,168.71 L675.56,167.61 L676.21,166.54 L676.90,165.50 L677.60,164.54 L678.32,163.59 L679.07,162.66 L679.84,161.76 L680.63,160.87 L681.43,160.01 L682.24,159.17 L683.06,158.35 L683.88,157.56 L684.70,156.80 L685.44,156.14 L686.16,155.53 L686.89,154.96 L687.61,154.40 L688.35,153.87 L689.11,153.33 L689.89,152.78 L690.71,152.22 L691.58,151.63 L692.50,151.00 L693.97,149.99 L695.59,148.87 L697.32,147.68 L699.14,146.45 L701.01,145.21 L702.90,143.99 L704.76,142.82 L706.57,141.73 L708.30,140.74 L709.90,139.90 L710.96,139.38 L711.97,138.93 L712.93,138.52 L713.87,138.15 L714.80,137.80 L715.73,137.48 L716.68,137.17 L717.67,136.86 L718.70,136.54 L719.80,136.20 L721.29,135.75 L722.84,135.29 L724.45,134.84 L726.10,134.40 L727.80,133.97 L729.54,133.54 L731.32,133.13 L733.15,132.73 L735.01,132.36 L736.90,132.00 L739.31,131.59 L741.81,131.21 L744.40,130.86 L747.06,130.53 L749.77,130.23 L752.50,129.94 L755.25,129.66 L758.00,129.40 L760.72,129.15 L763.40,128.90 L766.05,128.67 L768.71,128.46 L771.37,128.28 L774.02,128.11 L776.68,127.95 L779.34,127.79 L782.00,127.63 L784.67,127.47 L787.33,127.29 L790.00,127.10 L792.69,126.89 L795.39,126.66 L798.09,126.43 L800.79,126.19 L803.49,125.95 L806.19,125.71 L808.89,125.47 L811.60,125.24 L814.30,125.01 L817.00,124.80 L819.69,124.60 L822.35,124.41 L825.01,124.22 L827.66,124.04 L830.32,123.87 L832.99,123.70 L835.69,123.52 L838.42,123.35 L841.19,123.18 L844.00,123.00 L847.19,122.80 L850.44,122.60 L853.73,122.40 L857.07,122.20 L860.43,122.00 L863.81,121.80 L867.20,121.60 L870.58,121.40 L873.95,121.20 L877.30,121.00"/></g>
<g fill="none" stroke="#2a2a2a" stroke-width="1.1" stroke-linejoin="round"><path d="M629.20,247.30 L630.48,245.02 L631.76,242.75 L633.04,240.47 L634.31,238.20 L635.59,235.93 L636.87,233.65 L638.15,231.37 L639.43,229.09 L640.71,226.80 L642.00,224.50 L643.32,222.11 L644.64,219.66 L645.97,217.16 L647.30,214.65 L648.64,212.15 L649.97,209.69 L651.29,207.30 L652.60,205.00 L653.91,202.83 L655.20,200.80 L656.17,199.38 L657.15,198.04 L658.13,196.77 L659.10,195.56 L660.07,194.38 L661.03,193.23 L661.97,192.08 L662.90,190.92 L663.81,189.73 L664.70,188.50 L665.55,187.27 L666.40,186.04 L667.24,184.79 L668.07,183.55 L668.89,182.30 L669.68,181.04 L670.44,179.78 L671.16,178.52 L671.85,177.26 L672.50,176.00 L673.05,174.82 L673.57,173.62 L674.06,172.40 L674.52,171.18 L674.95,169.97 L675.37,168.76 L675.77,167.59 L676.15,166.44 L676.53,165.34 L676.90,164.30 L677.18,163.55 L677.44,162.82 L677.70,162.11 L677.95,161.43 L678.19,160.76 L678.42,160.10 L678.65,159.45 L678.87,158.80 L679.09,158.15 L679.30,157.50 L679.49,156.90 L679.67,156.30 L679.85,155.70 L680.02,155.11 L680.18,154.53 L680.34,153.94 L680.51,153.36 L680.67,152.77 L680.83,152.19 L681.00,151.60"/><path d="M681.00,151.60 L877.30,151.60"/><path d="M629.20,189.70 L681.30,189.70"/><path d="M681.30,189.70 L681.42,190.53 L681.53,191.36 L681.63,192.20 L681.74,193.03 L681.85,193.86 L681.96,194.70 L682.08,195.53 L682.21,196.35 L682.35,197.18 L682.50,198.00 L682.66,198.81 L682.83,199.62 L683.01,200.43 L683.19,201.24 L683.38,202.04 L683.59,202.84 L683.80,203.64 L684.02,204.43 L684.25,205.22 L684.50,206.00 L684.75,206.77 L685.01,207.54 L685.28,208.30 L685.56,209.06 L685.85,209.81 L686.15,210.56 L686.46,211.31 L686.79,212.04 L687.14,212.78 L687.50,213.50 L687.88,214.23 L688.27,214.95 L688.68,215.67 L689.10,216.39 L689.54,217.09 L689.99,217.79 L690.46,218.49 L690.95,219.17 L691.46,219.84 L692.00,220.50 L692.60,221.20 L693.22,221.88 L693.86,222.56 L694.52,223.23 L695.21,223.89 L695.92,224.53 L696.65,225.17 L697.41,225.79 L698.19,226.40 L699.00,227.00 L699.96,227.67 L700.97,228.32 L702.01,228.96 L703.09,229.58 L704.20,230.19 L705.32,230.79 L706.46,231.36 L707.61,231.92 L708.76,232.47 L709.90,233.00 L711.06,233.52 L712.23,234.03 L713.41,234.51 L714.60,234.98 L715.79,235.44 L717.00,235.88 L718.23,236.30 L719.47,236.72 L720.72,237.11 L722.00,237.50 L723.39,237.90 L724.78,238.29 L726.17,238.65 L727.58,239.00 L729.01,239.33 L730.47,239.65 L731.97,239.96 L733.52,240.25 L735.13,240.53 L736.80,240.80 L739.14,241.14 L741.61,241.46 L744.20,241.75 L746.87,242.02 L749.60,242.27 L752.38,242.49 L755.17,242.70 L757.95,242.88 L760.70,243.05 L763.40,243.20 L765.99,243.32 L768.47,243.41 L770.89,243.48 L773.30,243.52 L775.74,243.54 L778.25,243.56 L780.89,243.56 L783.70,243.57 L786.72,243.58 L790.00,243.60 L796.69,243.64 L804.23,243.66 L812.49,243.67 L821.29,243.67 L830.50,243.66 L839.96,243.64 L849.52,243.63 L859.03,243.61 L868.34,243.60 L877.30,243.60"/><path d="M629.20,214.30 L630.18,213.92 L631.17,213.54 L632.17,213.17 L633.16,212.81 L634.16,212.44 L635.15,212.06 L636.13,211.67 L637.10,211.27 L638.06,210.85 L639.00,210.40 L639.91,209.94 L640.81,209.45 L641.70,208.95 L642.59,208.44 L643.46,207.91 L644.33,207.38 L645.18,206.84 L646.03,206.29 L646.87,205.74 L647.70,205.20 L648.49,204.69 L649.26,204.20 L650.03,203.71 L650.80,203.22 L651.55,202.72 L652.30,202.20 L653.04,201.66 L653.77,201.08 L654.49,200.46 L655.20,199.80 L656.03,198.95 L656.84,198.04 L657.64,197.07 L658.43,196.06 L659.20,195.01 L659.97,193.93 L660.73,192.83 L661.49,191.72 L662.25,190.61 L663.00,189.50 L663.81,188.30 L664.62,187.06 L665.42,185.80 L666.22,184.52 L667.02,183.22 L667.80,181.92 L668.57,180.62 L669.33,179.33 L670.07,178.06 L670.80,176.80 L671.44,175.64 L672.06,174.47 L672.64,173.31 L673.22,172.14 L673.79,170.98 L674.36,169.84 L674.95,168.71 L675.56,167.61 L676.21,166.54 L676.90,165.50 L677.60,164.54 L678.32,163.59 L679.07,162.66 L679.84,161.76 L680.63,160.87 L681.43,160.01 L682.24,159.17 L683.06,158.35 L683.88,157.56 L684.70,156.80 L685.44,156.14 L686.16,155.53 L686.89,154.96 L687.61,154.40 L688.35,153.87 L689.11,153.33 L689.89,152.78 L690.71,152.22 L691.58,151.63 L692.50,151.00 L693.97,149.99 L695.59,148.87 L697.32,147.68 L699.14,146.45 L701.01,145.21 L702.90,143.99 L704.76,142.82 L706.57,141.73 L708.30,140.74 L709.90,139.90 L710.96,139.38 L711.97,138.93 L712.93,138.52 L713.87,138.15 L714.80,137.80 L715.73,137.48 L716.68,137.17 L717.67,136.86 L718.70,136.54 L719.80,136.20 L721.29,135.75 L722.84,135.29 L724.45,134.84 L726.10,134.40 L727.80,133.97 L729.54,133.54 L731.32,133.13 L733.15,132.73 L735.01,132.36 L736.90,132.00 L739.31,131.59 L741.81,131.21 L744.40,130.86 L747.06,130.53 L749.77,130.23 L752.50,129.94 L755.25,129.66 L758.00,129.40 L760.72,129.15 L763.40,128.90 L766.05,128.67 L768.71,128.46 L771.37,128.28 L774.02,128.11 L776.68,127.95 L779.34,127.79 L782.00,127.63 L784.67,127.47 L787.33,127.29 L790.00,127.10 L792.69,126.89 L795.39,126.66 L798.09,126.43 L800.79,126.19 L803.49,125.95 L806.19,125.71 L808.89,125.47 L811.60,125.24 L814.30,125.01 L817.00,124.80 L819.69,124.60 L822.35,124.41 L825.01,124.22 L827.66,124.04 L830.32,123.87 L832.99,123.70 L835.69,123.52 L838.42,123.35 L841.19,123.18 L844.00,123.00 L847.19,122.80 L850.44,122.60 L853.73,122.40 L857.07,122.20 L860.43,122.00 L863.81,121.80 L867.20,121.60 L870.58,121.40 L873.95,121.20 L877.30,121.00"/></g>
<g fill="none" stroke="#e2363b" stroke-width="1.3" stroke-dasharray="4.2,3"><path d="M629.20,185.60 L629.98,185.14 L630.78,184.69 L631.57,184.24 L632.37,183.79 L633.16,183.34 L633.95,182.89 L634.73,182.43 L635.50,181.96 L636.26,181.49 L637.00,181.00 L637.70,180.53 L638.39,180.07 L639.08,179.60 L639.76,179.12 L640.43,178.64 L641.08,178.15 L641.72,177.64 L642.34,177.11 L642.93,176.57 L643.50,176.00 L644.03,175.42 L644.55,174.82 L645.04,174.20 L645.52,173.56 L645.97,172.91 L646.41,172.24 L646.83,171.57 L647.24,170.89 L647.63,170.20 L648.00,169.50 L648.35,168.79 L648.69,168.05 L649.00,167.30 L649.29,166.53 L649.57,165.76 L649.83,164.99 L650.08,164.23 L650.33,163.47 L650.57,162.72 L650.80,162.00 L651.00,161.37 L651.18,160.75 L651.34,160.12 L651.50,159.51 L651.66,158.90 L651.81,158.30 L651.97,157.70 L652.13,157.12 L652.31,156.55 L652.50,156.00 L652.68,155.53 L652.87,155.07 L653.07,154.62 L653.27,154.18 L653.47,153.75 L653.68,153.32 L653.89,152.89 L654.09,152.47 L654.30,152.04 L654.50,151.60"/><path d="M654.50,151.60 L782.70,151.60"/><path d="M629.20,189.50 L651.30,189.50"/><path d="M651.30,189.50 L651.50,190.20 L651.69,190.90 L651.89,191.59 L652.08,192.29 L652.28,192.99 L652.47,193.69 L652.67,194.39 L652.87,195.09 L653.08,195.79 L653.30,196.50 L653.53,197.24 L653.76,197.99 L654.00,198.75 L654.23,199.50 L654.48,200.26 L654.73,201.02 L654.98,201.77 L655.25,202.52 L655.52,203.27 L655.80,204.00 L656.08,204.71 L656.37,205.42 L656.65,206.12 L656.95,206.81 L657.25,207.50 L657.56,208.20 L657.89,208.89 L658.24,209.59 L658.61,210.29 L659.00,211.00 L659.48,211.84 L659.97,212.69 L660.49,213.56 L661.02,214.43 L661.58,215.30 L662.17,216.17 L662.78,217.02 L663.42,217.87 L664.10,218.70 L664.80,219.50 L665.62,220.37 L666.49,221.23 L667.40,222.09 L668.35,222.93 L669.33,223.75 L670.33,224.55 L671.36,225.33 L672.39,226.09 L673.44,226.81 L674.50,227.50 L675.58,228.16 L676.68,228.80 L677.80,229.40 L678.94,229.98 L680.10,230.53 L681.27,231.07 L682.45,231.58 L683.63,232.07 L684.82,232.54 L686.00,233.00 L687.17,233.43 L688.36,233.84 L689.55,234.23 L690.75,234.60 L691.96,234.94 L693.16,235.28 L694.37,235.60 L695.58,235.91 L696.79,236.21 L698.00,236.50 L699.16,236.78 L700.30,237.04 L701.41,237.29 L702.52,237.52 L703.64,237.75 L704.78,237.96 L705.97,238.17 L707.20,238.38 L708.51,238.59 L709.90,238.80 L712.15,239.11 L714.58,239.41 L717.17,239.71 L719.88,240.00 L722.67,240.27 L725.52,240.54 L728.39,240.80 L731.25,241.04 L734.07,241.28 L736.80,241.50 L739.46,241.71 L742.13,241.91 L744.79,242.10 L747.45,242.28 L750.11,242.45 L752.76,242.61 L755.42,242.75 L758.08,242.88 L760.74,243.00 L763.40,243.10 L765.99,243.18 L768.47,243.25 L770.89,243.29 L773.30,243.32 L775.74,243.34 L778.25,243.36 L780.89,243.37 L783.70,243.37 L786.72,243.38 L790.00,243.40 L796.69,243.43 L804.23,243.44 L812.49,243.45 L821.29,243.45 L830.50,243.44 L839.96,243.43 L849.52,243.42 L859.03,243.41 L868.34,243.40 L877.30,243.40"/><path d="M629.60,247.30 L630.45,244.55 L631.31,241.78 L632.17,238.98 L633.03,236.19 L633.89,233.40 L634.74,230.63 L635.59,227.90 L636.44,225.20 L637.27,222.57 L638.10,220.00 L638.81,217.82 L639.51,215.66 L640.20,213.54 L640.89,211.45 L641.57,209.39 L642.26,207.36 L642.94,205.36 L643.62,203.38 L644.31,201.43 L645.00,199.50 L645.61,197.81 L646.21,196.14 L646.81,194.50 L647.41,192.89 L648.01,191.29 L648.62,189.71 L649.24,188.14 L649.87,186.59 L650.52,185.04 L651.20,183.50 L651.87,182.01 L652.54,180.53 L653.22,179.05 L653.91,177.59 L654.62,176.14 L655.34,174.70 L656.09,173.29 L656.86,171.90 L657.66,170.53 L658.50,169.20 L659.35,167.93 L660.24,166.66 L661.16,165.40 L662.11,164.17 L663.08,162.95 L664.06,161.77 L665.04,160.63 L666.01,159.54 L666.97,158.49 L667.90,157.50 L668.63,156.76 L669.34,156.06 L670.05,155.40 L670.76,154.76 L671.46,154.15 L672.17,153.55 L672.88,152.97 L673.61,152.38 L674.35,151.80 L675.10,151.20 L675.90,150.57 L676.70,149.94 L677.50,149.31 L678.32,148.68 L679.15,148.07 L679.99,147.46 L680.84,146.87 L681.71,146.29 L682.59,145.73 L683.50,145.20 L684.47,144.67 L685.45,144.16 L686.45,143.69 L687.46,143.23 L688.50,142.78 L689.55,142.35 L690.62,141.92 L691.72,141.48 L692.85,141.05 L694.00,140.60 L695.43,140.05 L696.88,139.49 L698.37,138.93 L699.89,138.38 L701.45,137.82 L703.04,137.28 L704.69,136.74 L706.37,136.21 L708.11,135.70 L709.90,135.20 L712.30,134.58 L714.82,133.98 L717.45,133.39 L720.17,132.81 L722.94,132.26 L725.75,131.72 L728.57,131.21 L731.39,130.71 L734.17,130.24 L736.90,129.80 L739.55,129.39 L742.20,129.01 L744.85,128.65 L747.50,128.32 L750.15,128.01 L752.80,127.71 L755.45,127.42 L758.09,127.14 L760.75,126.87 L763.40,126.60 L766.05,126.34 L768.71,126.08 L771.37,125.84 L774.02,125.61 L776.68,125.39 L779.34,125.17 L782.00,124.97 L784.66,124.77 L787.33,124.58 L790.00,124.40 L792.69,124.23 L795.39,124.06 L798.08,123.91 L800.78,123.77 L803.49,123.63 L806.19,123.50 L808.89,123.37 L811.60,123.25 L814.30,123.12 L817.00,123.00 L819.69,122.88 L822.35,122.76 L825.01,122.64 L827.66,122.53 L830.32,122.41 L833.00,122.31 L835.69,122.20 L838.42,122.10 L841.19,122.00 L844.00,121.90 L847.19,121.80 L850.44,121.70 L853.73,121.61 L857.07,121.52 L860.43,121.43 L863.81,121.34 L867.20,121.26 L870.58,121.17 L873.95,121.09 L877.30,121.00"/></g>
<line x1="764.6" y1="187.8" x2="793" y2="187.8" stroke="#e2363b" stroke-width="1.3" stroke-dasharray="4.2,3"/>
<line x1="764.6" y1="197.3" x2="793.7" y2="197.3" stroke="#2a2a2a" stroke-width="1"/>
<text x="797.8" y="190.0" font-size="6.4" text-anchor="start" font-weight="normal" fill="#444444" textLength="55.6" lengthAdjust="spacingAndGlyphs" >After &#160;50% Discharge</text>
<text x="797.8" y="199.5" font-size="6.4" text-anchor="start" font-weight="normal" fill="#444444" textLength="55.6" lengthAdjust="spacingAndGlyphs" >After 100% Discharge</text>
<text x="877.3" y="146.6" font-size="8.5" text-anchor="end" font-weight="normal" fill="#444444" textLength="53" lengthAdjust="spacingAndGlyphs" >Charge Voltage</text>
<text x="877.7" y="158.8" font-size="6.2" text-anchor="end" font-weight="normal" fill="#444444" textLength="53.4" lengthAdjust="spacingAndGlyphs" >(Constant 2.25v/cell)</text>
<text x="877.2" y="117.9" font-size="8.5" text-anchor="end" font-weight="normal" fill="#444444" textLength="57.2" lengthAdjust="spacingAndGlyphs" >Charged Volume</text>
<text x="877.3" y="239.3" font-size="8.5" text-anchor="end" font-weight="normal" fill="#444444" textLength="58.6" lengthAdjust="spacingAndGlyphs" >Charging Current</text>
<text x="924" y="74.8" font-size="9.7" text-anchor="end" font-weight="normal" fill="#444444" textLength="153" lengthAdjust="spacingAndGlyphs" >0.10CA-2.25V/cell &#160;temperature 25°C</text>
<text x="551.2" y="62.3" font-size="5.8" text-anchor="end" font-weight="normal" fill="#444444" >Charge</text>
<text x="551.2" y="68.9" font-size="5.8" text-anchor="end" font-weight="normal" fill="#444444" >Volume</text>
<text x="577.5" y="62.3" font-size="5.8" text-anchor="end" font-weight="normal" fill="#444444" >Charging</text>
<text x="577.5" y="68.9" font-size="5.8" text-anchor="end" font-weight="normal" fill="#444444" >Current</text>
<text x="604.8" y="62.3" font-size="5.8" text-anchor="end" font-weight="normal" fill="#444444" >Charging</text>
<text x="604.8" y="68.9" font-size="5.8" text-anchor="end" font-weight="normal" fill="#444444" >Voltage</text>
<text x="551.2" y="79.1" font-size="6.8" text-anchor="end" font-weight="normal" fill="#444444" >%</text>
<text x="577.5" y="79.1" font-size="6.8" text-anchor="end" font-weight="normal" fill="#444444" >(XCA)</text>
<text x="604.8" y="79.1" font-size="6.8" text-anchor="end" font-weight="normal" fill="#444444" >(V)</text>
<text x="627.8" y="79.1" font-size="6.8" text-anchor="end" font-weight="normal" fill="#444444" >(V)</text>
<text x="951.3" y="62.3" font-size="5.8" text-anchor="end" font-weight="normal" fill="#444444" >Charging</text>
<text x="951.3" y="68.9" font-size="5.8" text-anchor="end" font-weight="normal" fill="#444444" >Voltage</text>
<text x="951.3" y="79.1" font-size="6.8" text-anchor="end" font-weight="normal" fill="#444444" >(V)</text>
<text x="542.9" y="249.5" font-size="6.6" text-anchor="end" font-weight="normal" fill="#444444" >0</text>
<text x="542.9" y="237.8" font-size="6.6" text-anchor="end" font-weight="normal" fill="#444444" >10</text>
<text x="542.9" y="226.2" font-size="6.6" text-anchor="end" font-weight="normal" fill="#444444" >20</text>
<text x="542.9" y="214.5" font-size="6.6" text-anchor="end" font-weight="normal" fill="#444444" >30</text>
<text x="542.9" y="202.9" font-size="6.6" text-anchor="end" font-weight="normal" fill="#444444" >40</text>
<text x="542.9" y="191.2" font-size="6.6" text-anchor="end" font-weight="normal" fill="#444444" >50</text>
<text x="542.9" y="179.6" font-size="6.6" text-anchor="end" font-weight="normal" fill="#444444" >60</text>
<text x="542.9" y="167.9" font-size="6.6" text-anchor="end" font-weight="normal" fill="#444444" >70</text>
<text x="542.9" y="156.3" font-size="6.6" text-anchor="end" font-weight="normal" fill="#444444" >80</text>
<text x="542.9" y="144.7" font-size="6.6" text-anchor="end" font-weight="normal" fill="#444444" >90</text>
<text x="542.9" y="133.0" font-size="6.6" text-anchor="end" font-weight="normal" fill="#444444" >100</text>
<text x="542.9" y="121.3" font-size="6.6" text-anchor="end" font-weight="normal" fill="#444444" >110</text>
<text x="542.9" y="109.7" font-size="6.6" text-anchor="end" font-weight="normal" fill="#444444" >120</text>
<text x="569.2" y="249.5" font-size="6.6" text-anchor="end" font-weight="normal" fill="#444444" >0</text>
<text x="569.2" y="221.6" font-size="6.6" text-anchor="end" font-weight="normal" fill="#444444" >0.05</text>
<text x="569.2" y="192.2" font-size="6.6" text-anchor="end" font-weight="normal" fill="#444444" >0.10</text>
<text x="569.2" y="159.0" font-size="6.6" text-anchor="end" font-weight="normal" fill="#444444" >0.15</text>
<text x="569.2" y="128.7" font-size="6.6" text-anchor="end" font-weight="normal" fill="#444444" >0.20</text>
<text x="569.2" y="103.2" font-size="6.6" text-anchor="end" font-weight="normal" fill="#444444" >0.25</text>
<text x="597.3" y="112.2" font-size="6.6" text-anchor="end" font-weight="normal" fill="#444444" >15.0</text>
<text x="597.3" y="139.6" font-size="6.6" text-anchor="end" font-weight="normal" fill="#444444" >14.0</text>
<text x="597.3" y="167.0" font-size="6.6" text-anchor="end" font-weight="normal" fill="#444444" >13.0</text>
<text x="597.3" y="195.4" font-size="6.6" text-anchor="end" font-weight="normal" fill="#444444" >12.0</text>
<text x="597.3" y="222.8" font-size="6.6" text-anchor="end" font-weight="normal" fill="#444444" >11.0</text>
<text x="622.3" y="112.0" font-size="6.8" text-anchor="end" font-weight="normal" fill="#444444" >7.5</text>
<text x="622.3" y="139.7" font-size="6.8" text-anchor="end" font-weight="normal" fill="#444444" >7.0</text>
<text x="622.3" y="167.1" font-size="6.8" text-anchor="end" font-weight="normal" fill="#444444" >6.5</text>
<text x="622.3" y="194.8" font-size="6.8" text-anchor="end" font-weight="normal" fill="#444444" >6.0</text>
<text x="622.3" y="222.2" font-size="6.8" text-anchor="end" font-weight="normal" fill="#444444" >5.5</text>
<text x="956.4" y="111.2" font-size="6.6" text-anchor="start" font-weight="normal" fill="#444444" >2.50</text>
<text x="956.4" y="139.2" font-size="6.6" text-anchor="start" font-weight="normal" fill="#444444" >2.33</text>
<text x="956.4" y="166.5" font-size="6.6" text-anchor="start" font-weight="normal" fill="#444444" >2.17</text>
<text x="956.4" y="194.5" font-size="6.6" text-anchor="start" font-weight="normal" fill="#444444" >2.00</text>
<text x="956.4" y="222.5" font-size="6.6" text-anchor="start" font-weight="normal" fill="#444444" >1.83</text>
<g stroke="#505050" stroke-width="1"><line x1="551.6" y1="80.8" x2="551.6" y2="247"/><line x1="545.6" y1="246.9" x2="551.6" y2="246.9"/><line x1="545.6" y1="235.2" x2="551.6" y2="235.2"/><line x1="545.6" y1="223.6" x2="551.6" y2="223.6"/><line x1="545.6" y1="211.9" x2="551.6" y2="211.9"/><line x1="545.6" y1="200.3" x2="551.6" y2="200.3"/><line x1="545.6" y1="188.7" x2="551.6" y2="188.7"/><line x1="545.6" y1="177.0" x2="551.6" y2="177.0"/><line x1="545.6" y1="165.3" x2="551.6" y2="165.3"/><line x1="545.6" y1="153.7" x2="551.6" y2="153.7"/><line x1="545.6" y1="142.1" x2="551.6" y2="142.1"/><line x1="545.6" y1="130.4" x2="551.6" y2="130.4"/><line x1="545.6" y1="118.8" x2="551.6" y2="118.8"/><line x1="545.6" y1="107.1" x2="551.6" y2="107.1"/><line x1="578.5" y1="80.8" x2="578.5" y2="247"/><line x1="572.7" y1="246.9" x2="578.5" y2="246.9"/><line x1="572.7" y1="219" x2="578.5" y2="219"/><line x1="572.7" y1="189.6" x2="578.5" y2="189.6"/><line x1="572.7" y1="156.4" x2="578.5" y2="156.4"/><line x1="572.7" y1="126.1" x2="578.5" y2="126.1"/><line x1="572.7" y1="100.6" x2="578.5" y2="100.6"/><line x1="604.8" y1="80.8" x2="604.8" y2="247"/><line x1="600.4" y1="109.6" x2="604.8" y2="109.6"/><line x1="600.4" y1="137" x2="604.8" y2="137"/><line x1="600.4" y1="164.4" x2="604.8" y2="164.4"/><line x1="600.4" y1="192.8" x2="604.8" y2="192.8"/><line x1="600.4" y1="220.2" x2="604.8" y2="220.2"/><line x1="600" y1="246.9" x2="604.8" y2="246.9"/><line x1="951" y1="80.6" x2="951" y2="247.6"/><line x1="945.6" y1="108.6" x2="951" y2="108.6"/><line x1="945.6" y1="136.6" x2="951" y2="136.6"/><line x1="945.6" y1="163.9" x2="951" y2="163.9"/><line x1="945.6" y1="191.9" x2="951" y2="191.9"/><line x1="945.6" y1="219.9" x2="951" y2="219.9"/><line x1="946" y1="247.6" x2="951" y2="247.6"/></g>
<text x="628.7" y="258.3" font-size="6.9" text-anchor="start" font-weight="normal" fill="#444444" >0</text>
<text x="655.5" y="258.3" font-size="6.9" text-anchor="start" font-weight="normal" fill="#444444" >4</text>
<text x="682.4" y="258.3" font-size="6.9" text-anchor="start" font-weight="normal" fill="#444444" >8</text>
<text x="709.2" y="258.3" font-size="6.9" text-anchor="start" font-weight="normal" fill="#444444" >12</text>
<text x="736.1" y="258.3" font-size="6.9" text-anchor="start" font-weight="normal" fill="#444444" >16</text>
<text x="762.9" y="258.3" font-size="6.9" text-anchor="start" font-weight="normal" fill="#444444" >20</text>
<text x="789.8" y="258.3" font-size="6.9" text-anchor="start" font-weight="normal" fill="#444444" >24</text>
<text x="816.6" y="258.3" font-size="6.9" text-anchor="start" font-weight="normal" fill="#444444" >28</text>
<text x="843.5" y="258.3" font-size="6.9" text-anchor="start" font-weight="normal" fill="#444444" >32</text>
<text x="870.3" y="258.3" font-size="6.9" text-anchor="start" font-weight="normal" fill="#444444" >36</text>
<text x="897.2" y="258.3" font-size="6.9" text-anchor="start" font-weight="normal" fill="#444444" >40</text>
<text x="629" y="274.1" font-size="10.9" text-anchor="start" font-weight="normal" fill="#444444" textLength="106" lengthAdjust="spacingAndGlyphs" >Charging Time (hours)</text>
<rect x="82.2" y="379.4" width="358.2" height="159.1" fill="#f0f2f1"/>
<g stroke="#ffffff" stroke-width="3.0"><line x1="82.2" y1="511.98" x2="440.4" y2="511.98"/><line x1="82.2" y1="485.47" x2="440.4" y2="485.47"/><line x1="82.2" y1="458.95" x2="440.4" y2="458.95"/><line x1="82.2" y1="432.43" x2="440.4" y2="432.43"/><line x1="82.2" y1="405.92" x2="440.4" y2="405.92"/><line x1="133.37" y1="379.4" x2="133.37" y2="538.5"/><line x1="184.54" y1="379.4" x2="184.54" y2="538.5"/><line x1="235.71" y1="379.4" x2="235.71" y2="538.5"/><line x1="286.89" y1="379.4" x2="286.89" y2="538.5"/><line x1="338.06" y1="379.4" x2="338.06" y2="538.5"/><line x1="389.23" y1="379.4" x2="389.23" y2="538.5"/></g>
<g stroke="#505050" stroke-width="1.15"><line x1="82.2" y1="511.98" x2="440.4" y2="511.98"/><line x1="82.2" y1="485.47" x2="440.4" y2="485.47"/><line x1="82.2" y1="458.95" x2="440.4" y2="458.95"/><line x1="82.2" y1="432.43" x2="440.4" y2="432.43"/><line x1="82.2" y1="405.92" x2="440.4" y2="405.92"/><line x1="133.37" y1="379.4" x2="133.37" y2="538.5"/><line x1="184.54" y1="379.4" x2="184.54" y2="538.5"/><line x1="235.71" y1="379.4" x2="235.71" y2="538.5"/><line x1="286.89" y1="379.4" x2="286.89" y2="538.5"/><line x1="338.06" y1="379.4" x2="338.06" y2="538.5"/><line x1="389.23" y1="379.4" x2="389.23" y2="538.5"/></g>
<rect x="82.2" y="379.4" width="358.2" height="159.1" fill="none" stroke="#505050" stroke-width="1.3"/>
<g fill="none" stroke="#1a1a1a" stroke-width="1.75"><path d="M103.18,455.09 L111.83,452.07 L120.47,449.15 L129.12,446.32 L137.77,443.59 L146.41,440.94 L155.06,438.39 L163.71,435.93 L172.35,433.55 L181.00,431.26 L189.65,429.06 L198.29,426.94 L206.94,424.91 L215.59,422.96 L224.23,421.09 L232.88,419.30 L241.53,417.58 L250.17,415.95 L258.82,414.40 L267.47,412.91 L276.11,411.51 L284.76,410.18 L293.41,408.92 L302.05,407.73 L310.70,406.61 L319.35,405.56 L327.99,404.58 L336.64,403.66 L345.29,402.82 L353.93,402.03 L362.58,401.31 L371.23,400.65 L379.87,400.05 L388.52,399.52 L397.17,399.04 L405.81,398.62 L414.46,398.25 L423.11,397.94 L431.75,397.69 L440.40,397.49"/><path d="M104.72,467.01 L113.32,463.98 L121.93,461.05 L130.54,458.22 L139.14,455.48 L147.75,452.83 L156.36,450.27 L164.97,447.80 L173.57,445.42 L182.18,443.13 L190.79,440.92 L199.40,438.80 L208.00,436.76 L216.61,434.80 L225.22,432.93 L233.82,431.13 L242.43,429.41 L251.04,427.77 L259.65,426.21 L268.25,424.72 L276.86,423.30 L285.47,421.96 L294.08,420.69 L302.68,419.49 L311.29,418.35 L319.90,417.29 L328.51,416.29 L337.11,415.36 L345.72,414.49 L354.33,413.68 L362.93,412.94 L371.54,412.25 L380.15,411.63 L388.76,411.06 L397.36,410.55 L405.97,410.09 L414.58,409.69 L423.19,409.34 L431.79,409.05 L440.40,408.80"/><path d="M106.25,477.47 L114.82,474.76 L123.39,472.13 L131.95,469.59 L140.52,467.12 L149.09,464.73 L157.66,462.43 L166.23,460.19 L174.79,458.04 L183.36,455.95 L191.93,453.93 L200.50,451.99 L209.07,450.11 L217.63,448.30 L226.20,446.55 L234.77,444.87 L243.34,443.25 L251.91,441.69 L260.47,440.18 L269.04,438.73 L277.61,437.34 L286.18,436.00 L294.75,434.72 L303.31,433.48 L311.88,432.29 L320.45,431.15 L329.02,430.05 L337.58,429.00 L346.15,427.99 L354.72,427.02 L363.29,426.09 L371.86,425.20 L380.42,424.34 L388.99,423.52 L397.56,422.73 L406.13,421.97 L414.70,421.24 L423.26,420.54 L431.83,419.86 L440.40,419.21"/><path d="M109.83,512.56 L118.31,510.29 L126.78,508.09 L135.26,505.97 L143.74,503.93 L152.21,501.95 L160.69,500.04 L169.17,498.20 L177.64,496.42 L186.12,494.70 L194.59,493.03 L203.07,491.43 L211.55,489.88 L220.02,488.38 L228.50,486.93 L236.97,485.53 L245.45,484.17 L253.93,482.85 L262.40,481.58 L270.88,480.34 L279.35,479.14 L287.83,477.97 L296.31,476.84 L304.78,475.73 L313.26,474.65 L321.73,473.60 L330.21,472.56 L338.69,471.55 L347.16,470.55 L355.64,469.57 L364.12,468.60 L372.59,467.65 L381.07,466.70 L389.54,465.76 L398.02,464.82 L406.50,463.88 L414.97,462.95 L423.45,462.01 L431.92,461.06 L440.40,460.11"/><path d="M112.90,525.42 L121.30,523.16 L129.70,520.98 L138.09,518.88 L146.49,516.85 L154.89,514.91 L163.29,513.03 L171.68,511.23 L180.08,509.49 L188.48,507.82 L196.88,506.21 L205.27,504.66 L213.67,503.16 L222.07,501.71 L230.47,500.32 L238.86,498.97 L247.26,497.66 L255.66,496.40 L264.06,495.18 L272.45,493.99 L280.85,492.84 L289.25,491.71 L297.64,490.61 L306.04,489.54 L314.44,488.49 L322.84,487.46 L331.23,486.44 L339.63,485.44 L348.03,484.44 L356.43,483.46 L364.82,482.48 L373.22,481.50 L381.62,480.52 L390.02,479.54 L398.41,478.55 L406.81,477.55 L415.21,476.54 L423.61,475.51 L432.00,474.46 L440.40,473.40"/><path d="M111.88,538.34 L120.30,536.20 L128.73,534.12 L137.15,532.08 L145.57,530.08 L154.00,528.13 L162.42,526.23 L170.84,524.37 L179.27,522.55 L187.69,520.78 L196.12,519.04 L204.54,517.34 L212.96,515.69 L221.39,514.07 L229.81,512.49 L238.23,510.94 L246.66,509.43 L255.08,507.95 L263.50,506.51 L271.93,505.10 L280.35,503.72 L288.78,502.37 L297.20,501.05 L305.62,499.77 L314.05,498.50 L322.47,497.27 L330.89,496.06 L339.32,494.88 L347.74,493.72 L356.16,492.58 L364.59,491.47 L373.01,490.38 L381.43,489.31 L389.86,488.26 L398.28,487.22 L406.71,486.21 L415.13,485.21 L423.55,484.23 L431.98,483.27 L440.40,482.31"/></g>
<g fill="none" stroke="#1a1a1a" stroke-width="1.75" stroke-dasharray="3.2,2.2"><path d="M82.20,462.80 L103.18,455.09"/><path d="M82.20,475.38 L104.72,467.01"/><path d="M82.20,485.55 L106.25,477.47"/><path d="M82.20,520.52 L109.83,512.56"/><path d="M82.20,534.46 L112.90,525.42"/></g>
<text x="432.9" y="397.5" font-size="7.55" text-anchor="end" font-weight="bold" fill="#fff" stroke="#fff" stroke-width="1.6" stroke-linejoin="round">0.05CA</text>
<text x="432.9" y="397.5" font-size="7.55" text-anchor="end" font-weight="bold" fill="#e1262b" stroke="#e1262b" stroke-width="0.3">0.05CA</text>
<text x="432.9" y="408.1" font-size="7.55" text-anchor="end" font-weight="bold" fill="#fff" stroke="#fff" stroke-width="1.6" stroke-linejoin="round">0.1CA</text>
<text x="432.9" y="408.1" font-size="7.55" text-anchor="end" font-weight="bold" fill="#e1262b" stroke="#e1262b" stroke-width="0.3">0.1CA</text>
<text x="432.9" y="419.0" font-size="7.55" text-anchor="end" font-weight="bold" fill="#fff" stroke="#fff" stroke-width="1.6" stroke-linejoin="round">0.2CA</text>
<text x="432.9" y="419.0" font-size="7.55" text-anchor="end" font-weight="bold" fill="#e1262b" stroke="#e1262b" stroke-width="0.3">0.2CA</text>
<text x="432.9" y="460.3" font-size="7.55" text-anchor="end" font-weight="bold" fill="#fff" stroke="#fff" stroke-width="1.6" stroke-linejoin="round">1.0CA</text>
<text x="432.9" y="460.3" font-size="7.55" text-anchor="end" font-weight="bold" fill="#e1262b" stroke="#e1262b" stroke-width="0.3">1.0CA</text>
<text x="432.9" y="472.9" font-size="7.55" text-anchor="end" font-weight="bold" fill="#fff" stroke="#fff" stroke-width="1.6" stroke-linejoin="round">2.0CA</text>
<text x="432.9" y="472.9" font-size="7.55" text-anchor="end" font-weight="bold" fill="#e1262b" stroke="#e1262b" stroke-width="0.3">2.0CA</text>
<text x="432.9" y="492.7" font-size="7.55" text-anchor="end" font-weight="bold" fill="#fff" stroke="#fff" stroke-width="1.6" stroke-linejoin="round">3.0CA</text>
<text x="432.9" y="492.7" font-size="7.55" text-anchor="end" font-weight="bold" fill="#e1262b" stroke="#e1262b" stroke-width="0.3">3.0CA</text>
<text x="78.8" y="538.8" font-size="7.0" text-anchor="end" font-weight="normal" fill="#444444" >0</text>
<text x="78.8" y="512.3" font-size="7.0" text-anchor="end" font-weight="normal" fill="#444444" >20</text>
<text x="78.8" y="485.8" font-size="7.0" text-anchor="end" font-weight="normal" fill="#444444" >40</text>
<text x="78.8" y="459.2" font-size="7.0" text-anchor="end" font-weight="normal" fill="#444444" >60</text>
<text x="78.8" y="432.7" font-size="7.0" text-anchor="end" font-weight="normal" fill="#444444" >80</text>
<text x="78.8" y="406.2" font-size="7.0" text-anchor="end" font-weight="normal" fill="#444444" >100</text>
<text x="78.8" y="379.7" font-size="7.0" text-anchor="end" font-weight="normal" fill="#444444" >120</text>
<text x="82.2" y="547.3" font-size="6.8" text-anchor="start" font-weight="normal" fill="#444444" >-20</text>
<text x="133.4" y="547.3" font-size="6.8" text-anchor="start" font-weight="normal" fill="#444444" >-10</text>
<text x="184.5" y="547.3" font-size="6.8" text-anchor="start" font-weight="normal" fill="#444444" >0</text>
<text x="235.7" y="547.3" font-size="6.8" text-anchor="start" font-weight="normal" fill="#444444" >10</text>
<text x="286.9" y="547.3" font-size="6.8" text-anchor="start" font-weight="normal" fill="#444444" >20</text>
<text x="338.1" y="547.3" font-size="6.8" text-anchor="start" font-weight="normal" fill="#444444" >30</text>
<text x="389.2" y="547.3" font-size="6.8" text-anchor="start" font-weight="normal" fill="#444444" >40</text>
<text x="440.4" y="547.3" font-size="6.8" text-anchor="end" font-weight="normal" fill="#444444" >50</text>
<text transform="translate(61.6,537.5) rotate(-90)" font-size="10.8" fill="#444444" textLength="59" lengthAdjust="spacingAndGlyphs">Capacity (%)</text>
<text x="83.7" y="565.7" font-size="10.6" text-anchor="start" font-weight="normal" fill="#444444" textLength="77.6" lengthAdjust="spacingAndGlyphs" >Temperature (°C)</text>
<rect x="586.5" y="380.3" width="357.9" height="158.7" fill="#f0f2f1"/>
<g stroke="#fff" stroke-width="3"><line x1="586.5" y1="392.12" x2="944.4" y2="392.12"/><line x1="586.5" y1="407.37" x2="944.4" y2="407.37"/><line x1="586.5" y1="417.03" x2="944.4" y2="417.03"/><line x1="586.5" y1="444.09" x2="944.4" y2="444.09"/><line x1="586.5" y1="465.57" x2="944.4" y2="465.57"/><line x1="586.5" y1="502.30" x2="944.4" y2="502.30"/><line x1="586.5" y1="507.88" x2="944.4" y2="507.88"/><line x1="586.5" y1="514.12" x2="944.4" y2="514.12"/><line x1="586.5" y1="521.20" x2="944.4" y2="521.20"/><line x1="586.5" y1="529.37" x2="944.4" y2="529.37"/><line x1="657.60" y1="380.3" x2="657.60" y2="539.0"/><line x1="729.70" y1="380.3" x2="729.70" y2="539.0"/><line x1="801.40" y1="380.3" x2="801.40" y2="539.0"/><line x1="586.5" y1="428.85" x2="807" y2="428.85"/><line x1="932" y1="428.85" x2="944.4" y2="428.85"/><line x1="873.10" y1="380.3" x2="873.10" y2="417.03"/><line x1="873.10" y1="444.09" x2="873.10" y2="539.0"/></g><g stroke="#505050" stroke-width="1.15"><line x1="586.5" y1="392.12" x2="944.4" y2="392.12"/><line x1="586.5" y1="407.37" x2="944.4" y2="407.37"/><line x1="586.5" y1="417.03" x2="944.4" y2="417.03"/><line x1="586.5" y1="444.09" x2="944.4" y2="444.09"/><line x1="586.5" y1="465.57" x2="944.4" y2="465.57"/><line x1="586.5" y1="502.30" x2="944.4" y2="502.30"/><line x1="586.5" y1="507.88" x2="944.4" y2="507.88"/><line x1="586.5" y1="514.12" x2="944.4" y2="514.12"/><line x1="586.5" y1="521.20" x2="944.4" y2="521.20"/><line x1="586.5" y1="529.37" x2="944.4" y2="529.37"/><line x1="657.60" y1="380.3" x2="657.60" y2="539.0"/><line x1="729.70" y1="380.3" x2="729.70" y2="539.0"/><line x1="801.40" y1="380.3" x2="801.40" y2="539.0"/><line x1="586.5" y1="428.85" x2="807" y2="428.85"/><line x1="932" y1="428.85" x2="944.4" y2="428.85"/><line x1="873.10" y1="380.3" x2="873.10" y2="417.03"/><line x1="873.10" y1="444.09" x2="873.10" y2="539.0"/></g>
<rect x="586.5" y="380.3" width="357.9" height="158.7" fill="none" stroke="#505050" stroke-width="1.3"/>
<path d="M657.60,407.60 L658.92,407.88 L660.24,408.15 L661.55,408.42 L662.87,408.69 L664.18,408.96 L665.50,409.24 L666.82,409.52 L668.14,409.80 L669.47,410.10 L670.80,410.40 L672.18,410.72 L673.56,411.04 L674.96,411.36 L676.35,411.70 L677.75,412.03 L679.14,412.38 L680.54,412.74 L681.93,413.11 L683.32,413.50 L684.70,413.90 L686.09,414.32 L687.48,414.76 L688.86,415.22 L690.24,415.68 L691.62,416.16 L693.00,416.65 L694.38,417.15 L695.75,417.66 L697.13,418.17 L698.50,418.70 L699.89,419.25 L701.26,419.81 L702.63,420.39 L703.99,420.98 L705.36,421.57 L706.73,422.17 L708.12,422.78 L709.52,423.39 L710.95,424.00 L712.40,424.60 L714.00,425.25 L715.55,425.87 L717.08,426.47 L718.62,427.07 L720.20,427.68 L721.85,428.32 L723.59,429.00 L725.47,429.73 L727.49,430.53 L729.70,431.40 L734.81,433.44 L740.71,435.82 L747.27,438.47 L754.35,441.33 L761.81,444.35 L769.52,447.47 L777.33,450.62 L785.10,453.75 L792.71,456.79 L800.00,459.70 L807.21,462.55 L814.44,465.40 L821.68,468.24 L828.95,471.08 L836.22,473.92 L843.50,476.75 L850.78,479.59 L858.06,482.42 L865.33,485.26 L872.60,488.10 L872.60,518.70 L865.34,515.70 L858.07,512.69 L850.79,509.67 L843.52,506.65 L836.24,503.64 L828.97,500.63 L821.71,497.64 L814.46,494.67 L807.22,491.72 L800.00,488.80 L792.72,485.89 L785.12,482.89 L777.35,479.84 L769.54,476.79 L761.83,473.80 L754.36,470.89 L747.27,468.14 L740.71,465.57 L734.80,463.24 L729.70,461.20 L727.48,460.30 L725.45,459.48 L723.58,458.72 L721.83,458.00 L720.19,457.32 L718.61,456.66 L717.07,456.01 L715.54,455.36 L714.00,454.70 L712.40,454.00 L710.94,453.35 L709.50,452.71 L708.08,452.06 L706.68,451.42 L705.30,450.78 L703.92,450.14 L702.56,449.50 L701.20,448.86 L699.85,448.23 L698.50,447.60 L697.22,447.00 L695.94,446.39 L694.66,445.77 L693.38,445.15 L692.12,444.54 L690.87,443.94 L689.63,443.36 L688.43,442.81 L687.25,442.29 L686.10,441.80 L685.21,441.44 L684.35,441.09 L683.52,440.77 L682.70,440.46 L681.89,440.16 L681.09,439.87 L680.27,439.60 L679.44,439.33 L678.59,439.06 L677.70,438.80 L676.65,438.50 L675.57,438.21 L674.46,437.93 L673.33,437.66 L672.19,437.39 L671.05,437.14 L669.91,436.90 L668.78,436.68 L667.67,436.48 L666.60,436.30 L665.67,436.16 L664.75,436.04 L663.84,435.94 L662.94,435.85 L662.05,435.77 L661.16,435.70 L660.27,435.63 L659.39,435.56 L658.50,435.48 L657.60,435.40 Z" fill="#da191c" stroke="#fff" stroke-width="0.6" paint-order="stroke"/>
<path d="M657.60,407.60 L658.92,407.88 L660.24,408.15 L661.55,408.42 L662.87,408.69 L664.18,408.96 L665.50,409.24 L666.82,409.52 L668.14,409.80 L669.47,410.10 L670.80,410.40 L672.18,410.72 L673.56,411.04 L674.96,411.36 L676.35,411.70 L677.75,412.03 L679.14,412.38 L680.54,412.74 L681.93,413.11 L683.32,413.50 L684.70,413.90 L686.09,414.32 L687.48,414.76 L688.86,415.22 L690.24,415.68 L691.62,416.16 L693.00,416.65 L694.38,417.15 L695.75,417.66 L697.13,418.17 L698.50,418.70 L699.89,419.25 L701.26,419.81 L702.63,420.39 L703.99,420.98 L705.36,421.57 L706.73,422.17 L708.12,422.78 L709.52,423.39 L710.95,424.00 L712.40,424.60 L714.00,425.25 L715.55,425.87 L717.08,426.47 L718.62,427.07 L720.20,427.68 L721.85,428.32 L723.59,429.00 L725.47,429.73 L727.49,430.53 L729.70,431.40 L734.81,433.44 L740.71,435.82 L747.27,438.47 L754.35,441.33 L761.81,444.35 L769.52,447.47 L777.33,450.62 L785.10,453.75 L792.71,456.79 L800.00,459.70 L807.21,462.55 L814.44,465.40 L821.68,468.24 L828.95,471.08 L836.22,473.92 L843.50,476.75 L850.78,479.59 L858.06,482.42 L865.33,485.26 L872.60,488.10 L872.60,518.70 L865.34,515.70 L858.07,512.69 L850.79,509.67 L843.52,506.65 L836.24,503.64 L828.97,500.63 L821.71,497.64 L814.46,494.67 L807.22,491.72 L800.00,488.80 L792.72,485.89 L785.12,482.89 L777.35,479.84 L769.54,476.79 L761.83,473.80 L754.36,470.89 L747.27,468.14 L740.71,465.57 L734.80,463.24 L729.70,461.20 L727.48,460.30 L725.45,459.48 L723.58,458.72 L721.83,458.00 L720.19,457.32 L718.61,456.66 L717.07,456.01 L715.54,455.36 L714.00,454.70 L712.40,454.00 L710.94,453.35 L709.50,452.71 L708.08,452.06 L706.68,451.42 L705.30,450.78 L703.92,450.14 L702.56,449.50 L701.20,448.86 L699.85,448.23 L698.50,447.60 L697.22,447.00 L695.94,446.39 L694.66,445.77 L693.38,445.15 L692.12,444.54 L690.87,443.94 L689.63,443.36 L688.43,442.81 L687.25,442.29 L686.10,441.80 L685.21,441.44 L684.35,441.09 L683.52,440.77 L682.70,440.46 L681.89,440.16 L681.09,439.87 L680.27,439.60 L679.44,439.33 L678.59,439.06 L677.70,438.80 L676.65,438.50 L675.57,438.21 L674.46,437.93 L673.33,437.66 L672.19,437.39 L671.05,437.14 L669.91,436.90 L668.78,436.68 L667.67,436.48 L666.60,436.30 L665.67,436.16 L664.75,436.04 L663.84,435.94 L662.94,435.85 L662.05,435.77 L661.16,435.70 L660.27,435.63 L659.39,435.56 L658.50,435.48 L657.60,435.40 Z" fill="#da191c"/>
<text x="873.7" y="429.0" font-size="10.6" text-anchor="middle" font-weight="normal" fill="#333" textLength="82.5" lengthAdjust="spacingAndGlyphs" >Charging voltage:</text>
<text x="873.4" y="441.0" font-size="10.6" text-anchor="middle" font-weight="normal" fill="#333" textLength="46" lengthAdjust="spacingAndGlyphs" >2.25V/cell</text>
<text x="582.9" y="379.9" font-size="6.8" text-anchor="end" font-weight="normal" fill="#444444" >10</text>
<text x="582.9" y="392.1" font-size="6.8" text-anchor="end" font-weight="normal" fill="#444444" >8</text>
<text x="582.9" y="407.9" font-size="6.8" text-anchor="end" font-weight="normal" fill="#444444" >6</text>
<text x="582.9" y="417.0" font-size="6.8" text-anchor="end" font-weight="normal" fill="#444444" >5</text>
<text x="582.9" y="429.5" font-size="6.8" text-anchor="end" font-weight="normal" fill="#444444" >4</text>
<text x="582.9" y="444.3" font-size="6.8" text-anchor="end" font-weight="normal" fill="#444444" >3</text>
<text x="582.9" y="466.1" font-size="6.8" text-anchor="end" font-weight="normal" fill="#444444" >2</text>
<text x="582.9" y="503.0" font-size="6.8" text-anchor="end" font-weight="normal" fill="#444444" >1</text>
<text x="582.9" y="539.8" font-size="6.8" text-anchor="end" font-weight="normal" fill="#444444" >0.5</text>
<text x="657.3" y="547.7" font-size="6.8" text-anchor="start" font-weight="normal" fill="#444444" >20</text>
<text x="657.3" y="553.7" font-size="6.8" text-anchor="start" font-weight="normal" fill="#444444" >68</text>
<text x="729.4" y="547.7" font-size="6.8" text-anchor="start" font-weight="normal" fill="#444444" >30</text>
<text x="729.4" y="553.7" font-size="6.8" text-anchor="start" font-weight="normal" fill="#444444" >86</text>
<text x="801.1" y="547.7" font-size="6.8" text-anchor="start" font-weight="normal" fill="#444444" >40</text>
<text x="801.1" y="553.7" font-size="6.8" text-anchor="start" font-weight="normal" fill="#444444" >104</text>
<text x="872.8" y="547.7" font-size="6.8" text-anchor="start" font-weight="normal" fill="#444444" >50</text>
<text x="872.8" y="553.7" font-size="6.8" text-anchor="start" font-weight="normal" fill="#444444" >122</text>
<text x="889.6" y="547.7" font-size="6.8" text-anchor="start" font-weight="normal" fill="#444444" >°C</text>
<text x="889.6" y="553.7" font-size="6.8" text-anchor="start" font-weight="normal" fill="#444444" >°F</text>
<text transform="translate(566.4,538.2) rotate(-90)" font-size="10.9" fill="#444444" textLength="103" lengthAdjust="spacingAndGlyphs">Life expectancy (year)</text>
<text x="587.8" y="565.8" font-size="10.6" text-anchor="start" font-weight="normal" fill="#444444" textLength="91.6" lengthAdjust="spacingAndGlyphs" >Battery temperature</text>
</svg></body></html>
